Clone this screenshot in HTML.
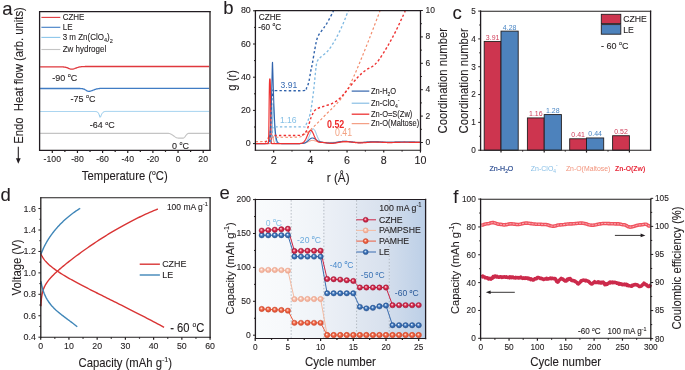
<!DOCTYPE html>
<html><head><meta charset="utf-8"><style>
html,body{margin:0;padding:0;background:#fff;}
svg{display:block;}
text{font-family:"Liberation Sans", sans-serif;}
</style></head><body>
<svg xmlns="http://www.w3.org/2000/svg" width="685" height="370" viewBox="0 0 685 370">
<defs><filter id="soft" x="0" y="0" width="1" height="1"><feGaussianBlur stdDeviation="0.4 0.28"/></filter></defs>
<g filter="url(#soft)">
<rect width="685" height="370" fill="#fff"/>
<text transform="translate(2.2,14.6) scale(1,1.0)" font-size="18.5" text-anchor="start" fill="#231f20" stroke="#231f20" stroke-width="0.1">a</text>
<text transform="translate(223.2,14) scale(1,1.0)" font-size="18.5" text-anchor="start" fill="#231f20" stroke="#231f20" stroke-width="0.1">b</text>
<text transform="translate(452.6,18.6) scale(1,1.0)" font-size="18.5" text-anchor="start" fill="#231f20" stroke="#231f20" stroke-width="0.1">c</text>
<text transform="translate(0.6,201) scale(1,1.0)" font-size="18.5" text-anchor="start" fill="#231f20" stroke="#231f20" stroke-width="0.1">d</text>
<text transform="translate(219.6,199.2) scale(1,1.0)" font-size="18.5" text-anchor="start" fill="#231f20" stroke="#231f20" stroke-width="0.1">e</text>
<text transform="translate(453.2,202.6) scale(1,1.0)" font-size="18.5" text-anchor="start" fill="#231f20" stroke="#231f20" stroke-width="0.1">f</text>
<polyline points="40.1,66.9 40.6,66.9 41.1,66.9 41.6,66.9 42.1,66.9 42.6,66.9 43.1,66.9 43.6,66.9 44.1,66.9 44.6,66.9 45.1,66.9 45.6,66.9 46.1,66.9 46.6,66.9 47.1,66.9 47.6,66.9 48.1,66.9 48.6,66.9 49.1,66.9 49.6,66.9 50.1,66.9 50.6,66.9 51.1,66.9 51.6,66.9 52.1,66.9 52.6,66.9 53.1,66.9 53.6,66.9 54.1,66.9 54.6,66.9 55.1,66.9 55.6,66.9 56.1,66.9 56.6,66.9 57.1,66.9 57.6,66.9 58.1,66.9 58.6,66.9 59.1,66.9 59.6,66.9 60.1,66.9 60.6,66.9 61.1,66.91 61.6,66.91 62.1,66.92 62.6,66.93 63.1,66.95 63.6,66.98 64.1,67.03 64.6,67.08 65.1,67.16 65.6,67.26 66.1,67.38 66.6,67.53 67.1,67.7 67.6,67.9 68.1,68.12 68.6,68.34 69.1,68.56 69.6,68.77 70.1,68.95 70.6,69.09 71.1,69.17 71.6,69.21 72.1,69.18 72.6,69.12 73.1,69.02 73.6,68.9 74.1,68.75 74.6,68.59 75.1,68.41 75.6,68.23 76.1,68.04 76.6,67.85 77.1,67.67 77.6,67.5 78.1,67.35 78.6,67.2 79.1,67.08 79.6,66.97 80.1,66.88 80.6,66.8 81.1,66.73 81.6,66.68 82.1,66.63 82.6,66.6 83.1,66.57 83.6,66.55 84.1,66.54 84.6,66.53 85.1,66.52 85.6,66.51 86.1,66.51 86.6,66.51 87.1,66.5 87.6,66.5 88.1,66.5 88.6,66.5 89.1,66.5 89.6,66.5 90.1,66.5 90.6,66.5 91.1,66.5 91.6,66.5 92.1,66.5 92.6,66.5 93.1,66.5 93.6,66.5 94.1,66.5 94.6,66.5 95.1,66.5 95.6,66.5 96.1,66.5 96.6,66.5 97.1,66.5 97.6,66.5 98.1,66.5 98.6,66.5 99.1,66.5 99.6,66.5 100.1,66.5 100.6,66.5 101.1,66.5 101.6,66.5 102.1,66.5 102.6,66.5 103.1,66.5 103.6,66.5 104.1,66.5 104.6,66.5 105.1,66.5 105.6,66.5 106.1,66.5 106.6,66.5 107.1,66.5 107.6,66.5 108.1,66.5 108.6,66.5 109.1,66.5 109.6,66.5 110.1,66.5 110.6,66.5 111.1,66.5 111.6,66.5 112.1,66.5 112.6,66.5 113.1,66.5 113.6,66.5 114.1,66.5 114.6,66.5 115.1,66.5 115.6,66.5 116.1,66.5 116.6,66.5 117.1,66.5 117.6,66.5 118.1,66.5 118.6,66.5 119.1,66.5 119.6,66.5 120.1,66.5 120.6,66.5 121.1,66.5 121.6,66.5 122.1,66.5 122.6,66.5 123.1,66.5 123.6,66.5 124.1,66.5 124.6,66.5 125.1,66.5 125.6,66.5 126.1,66.5 126.6,66.5 127.1,66.5 127.6,66.5 128.1,66.5 128.6,66.5 129.1,66.5 129.6,66.5 130.1,66.5 130.6,66.5 131.1,66.5 131.6,66.5 132.1,66.5 132.6,66.5 133.1,66.5 133.6,66.5 134.1,66.5 134.6,66.5 135.1,66.5 135.6,66.5 136.1,66.5 136.6,66.5 137.1,66.5 137.6,66.5 138.1,66.5 138.6,66.5 139.1,66.5 139.6,66.5 140.1,66.5 140.6,66.5 141.1,66.5 141.6,66.5 142.1,66.5 142.6,66.5 143.1,66.5 143.6,66.5 144.1,66.5 144.6,66.5 145.1,66.5 145.6,66.5 146.1,66.5 146.6,66.5 147.1,66.5 147.6,66.5 148.1,66.5 148.6,66.5 149.1,66.5 149.6,66.5 150.1,66.5 150.6,66.5 151.1,66.5 151.6,66.5 152.1,66.5 152.6,66.5 153.1,66.5 153.6,66.5 154.1,66.5 154.6,66.5 155.1,66.5 155.6,66.5 156.1,66.5 156.6,66.5 157.1,66.5 157.6,66.5 158.1,66.5 158.6,66.5 159.1,66.5 159.6,66.5 160.1,66.5 160.6,66.5 161.1,66.5 161.6,66.5 162.1,66.5 162.6,66.5 163.1,66.5 163.6,66.5 164.1,66.5 164.6,66.5 165.1,66.5 165.6,66.5 166.1,66.5 166.6,66.5 167.1,66.5 167.6,66.5 168.1,66.5 168.6,66.5 169.1,66.5 169.6,66.5 170.1,66.5 170.6,66.5 171.1,66.5 171.6,66.5 172.1,66.5 172.6,66.5 173.1,66.5 173.6,66.5 174.1,66.5 174.6,66.5 175.1,66.5 175.6,66.5 176.1,66.5 176.6,66.5 177.1,66.5 177.6,66.5 178.1,66.5 178.6,66.5 179.1,66.5 179.6,66.5 180.1,66.5 180.6,66.5 181.1,66.5 181.6,66.5 182.1,66.5 182.6,66.5 183.1,66.5 183.6,66.5 184.1,66.5 184.6,66.5 185.1,66.5 185.6,66.5 186.1,66.5 186.6,66.5 187.1,66.5 187.6,66.5 188.1,66.5 188.6,66.5 189.1,66.5 189.6,66.5 190.1,66.5 190.6,66.5 191.1,66.5 191.6,66.5 192.1,66.5 192.6,66.5 193.1,66.5 193.6,66.5 194.1,66.5 194.6,66.5 195.1,66.5 195.6,66.5 196.1,66.5 196.6,66.5 197.1,66.5 197.6,66.5 198.1,66.5 198.6,66.5 199.1,66.5 199.6,66.5 200.1,66.5 200.6,66.5 201.1,66.5 201.6,66.5 202.1,66.5 202.6,66.5 203.1,66.5 203.6,66.5 204.1,66.5 204.6,66.5 205.1,66.5 205.6,66.5 206.1,66.5 206.6,66.5 207.1,66.5 207.6,66.5 208.1,66.5 208.6,66.5 209.1,66.5" fill="none" stroke="#e0393e" stroke-width="1.3" stroke-linejoin="round"/>
<polyline points="40.1,88.5 40.6,88.5 41.1,88.5 41.6,88.5 42.1,88.5 42.6,88.5 43.1,88.5 43.6,88.5 44.1,88.5 44.6,88.5 45.1,88.5 45.6,88.5 46.1,88.5 46.6,88.5 47.1,88.5 47.6,88.5 48.1,88.5 48.6,88.5 49.1,88.5 49.6,88.5 50.1,88.5 50.6,88.5 51.1,88.5 51.6,88.5 52.1,88.5 52.6,88.5 53.1,88.5 53.6,88.5 54.1,88.5 54.6,88.5 55.1,88.5 55.6,88.5 56.1,88.5 56.6,88.5 57.1,88.5 57.6,88.5 58.1,88.5 58.6,88.5 59.1,88.5 59.6,88.5 60.1,88.5 60.6,88.5 61.1,88.5 61.6,88.5 62.1,88.5 62.6,88.5 63.1,88.5 63.6,88.5 64.1,88.5 64.6,88.5 65.1,88.5 65.6,88.5 66.1,88.5 66.6,88.5 67.1,88.5 67.6,88.5 68.1,88.5 68.6,88.5 69.1,88.5 69.6,88.5 70.1,88.5 70.6,88.5 71.1,88.5 71.6,88.5 72.1,88.5 72.6,88.5 73.1,88.5 73.6,88.5 74.1,88.5 74.6,88.5 75.1,88.5 75.6,88.5 76.1,88.5 76.6,88.5 77.1,88.5 77.6,88.5 78.1,88.5 78.6,88.5 79.1,88.51 79.6,88.51 80.1,88.52 80.6,88.54 81.1,88.57 81.6,88.61 82.1,88.67 82.6,88.75 83.1,88.87 83.6,89.02 84.1,89.21 84.6,89.44 85.1,89.71 85.6,90 86.1,90.3 86.6,90.59 87.1,90.86 87.6,91.08 88.1,91.23 88.6,91.3 89.1,91.29 89.6,91.24 90.1,91.15 90.6,91.04 91.1,90.91 91.6,90.75 92.1,90.57 92.6,90.39 93.1,90.19 93.6,90 94.1,89.8 94.6,89.62 95.1,89.44 95.6,89.28 96.1,89.13 96.6,88.99 97.1,88.87 97.6,88.77 98.1,88.68 98.6,88.6 99.1,88.54 99.6,88.48 100.1,88.44 100.6,88.41 101.1,88.38 101.6,88.36 102.1,88.34 102.6,88.33 103.1,88.32 103.6,88.32 104.1,88.31 104.6,88.31 105.1,88.31 105.6,88.3 106.1,88.3 106.6,88.3 107.1,88.3 107.6,88.3 108.1,88.3 108.6,88.3 109.1,88.3 109.6,88.3 110.1,88.3 110.6,88.3 111.1,88.3 111.6,88.3 112.1,88.3 112.6,88.3 113.1,88.3 113.6,88.3 114.1,88.3 114.6,88.3 115.1,88.3 115.6,88.3 116.1,88.3 116.6,88.3 117.1,88.3 117.6,88.3 118.1,88.3 118.6,88.3 119.1,88.3 119.6,88.3 120.1,88.3 120.6,88.3 121.1,88.3 121.6,88.3 122.1,88.3 122.6,88.3 123.1,88.3 123.6,88.3 124.1,88.3 124.6,88.3 125.1,88.3 125.6,88.3 126.1,88.3 126.6,88.3 127.1,88.3 127.6,88.3 128.1,88.3 128.6,88.3 129.1,88.3 129.6,88.3 130.1,88.3 130.6,88.3 131.1,88.3 131.6,88.3 132.1,88.3 132.6,88.3 133.1,88.3 133.6,88.3 134.1,88.3 134.6,88.3 135.1,88.3 135.6,88.3 136.1,88.3 136.6,88.3 137.1,88.3 137.6,88.3 138.1,88.3 138.6,88.3 139.1,88.3 139.6,88.3 140.1,88.3 140.6,88.3 141.1,88.3 141.6,88.3 142.1,88.3 142.6,88.3 143.1,88.3 143.6,88.3 144.1,88.3 144.6,88.3 145.1,88.3 145.6,88.3 146.1,88.3 146.6,88.3 147.1,88.3 147.6,88.3 148.1,88.3 148.6,88.3 149.1,88.3 149.6,88.3 150.1,88.3 150.6,88.3 151.1,88.3 151.6,88.3 152.1,88.3 152.6,88.3 153.1,88.3 153.6,88.3 154.1,88.3 154.6,88.3 155.1,88.3 155.6,88.3 156.1,88.3 156.6,88.3 157.1,88.3 157.6,88.3 158.1,88.3 158.6,88.3 159.1,88.3 159.6,88.3 160.1,88.3 160.6,88.3 161.1,88.3 161.6,88.3 162.1,88.3 162.6,88.3 163.1,88.3 163.6,88.3 164.1,88.3 164.6,88.3 165.1,88.3 165.6,88.3 166.1,88.3 166.6,88.3 167.1,88.3 167.6,88.3 168.1,88.3 168.6,88.3 169.1,88.3 169.6,88.3 170.1,88.3 170.6,88.3 171.1,88.3 171.6,88.3 172.1,88.3 172.6,88.3 173.1,88.3 173.6,88.3 174.1,88.3 174.6,88.3 175.1,88.3 175.6,88.3 176.1,88.3 176.6,88.3 177.1,88.3 177.6,88.3 178.1,88.3 178.6,88.3 179.1,88.3 179.6,88.3 180.1,88.3 180.6,88.3 181.1,88.3 181.6,88.3 182.1,88.3 182.6,88.3 183.1,88.3 183.6,88.3 184.1,88.3 184.6,88.3 185.1,88.3 185.6,88.3 186.1,88.3 186.6,88.3 187.1,88.3 187.6,88.3 188.1,88.3 188.6,88.3 189.1,88.3 189.6,88.3 190.1,88.3 190.6,88.3 191.1,88.3 191.6,88.3 192.1,88.3 192.6,88.3 193.1,88.3 193.6,88.3 194.1,88.3 194.6,88.3 195.1,88.3 195.6,88.3 196.1,88.3 196.6,88.3 197.1,88.3 197.6,88.3 198.1,88.3 198.6,88.3 199.1,88.3 199.6,88.3 200.1,88.3 200.6,88.3 201.1,88.3 201.6,88.3 202.1,88.3 202.6,88.3 203.1,88.3 203.6,88.3 204.1,88.3 204.6,88.3 205.1,88.3 205.6,88.3 206.1,88.3 206.6,88.3 207.1,88.3 207.6,88.3 208.1,88.3 208.6,88.3 209.1,88.3" fill="none" stroke="#3f7cc4" stroke-width="1.3" stroke-linejoin="round"/>
<polyline points="40.1,111.5 40.6,111.5 41.1,111.5 41.6,111.5 42.1,111.5 42.6,111.5 43.1,111.5 43.6,111.5 44.1,111.5 44.6,111.5 45.1,111.5 45.6,111.5 46.1,111.5 46.6,111.5 47.1,111.5 47.6,111.5 48.1,111.5 48.6,111.5 49.1,111.5 49.6,111.5 50.1,111.5 50.6,111.5 51.1,111.5 51.6,111.5 52.1,111.5 52.6,111.5 53.1,111.5 53.6,111.5 54.1,111.5 54.6,111.5 55.1,111.5 55.6,111.5 56.1,111.5 56.6,111.5 57.1,111.5 57.6,111.5 58.1,111.5 58.6,111.5 59.1,111.5 59.6,111.5 60.1,111.5 60.6,111.5 61.1,111.5 61.6,111.5 62.1,111.5 62.6,111.5 63.1,111.5 63.6,111.5 64.1,111.5 64.6,111.5 65.1,111.5 65.6,111.5 66.1,111.5 66.6,111.5 67.1,111.5 67.6,111.5 68.1,111.5 68.6,111.5 69.1,111.5 69.6,111.5 70.1,111.5 70.6,111.5 71.1,111.5 71.6,111.5 72.1,111.5 72.6,111.5 73.1,111.5 73.6,111.5 74.1,111.5 74.6,111.5 75.1,111.5 75.6,111.5 76.1,111.5 76.6,111.5 77.1,111.5 77.6,111.5 78.1,111.5 78.6,111.5 79.1,111.5 79.6,111.5 80.1,111.5 80.6,111.5 81.1,111.5 81.6,111.5 82.1,111.5 82.6,111.5 83.1,111.5 83.6,111.5 84.1,111.5 84.6,111.5 85.1,111.5 85.6,111.5 86.1,111.5 86.6,111.5 87.1,111.5 87.6,111.5 88.1,111.5 88.6,111.5 89.1,111.5 89.6,111.5 90.1,111.5 90.6,111.5 91.1,111.5 91.6,111.5 92.1,111.5 92.6,111.5 93.1,111.5 93.6,111.5 94.1,111.5 94.6,111.51 95.1,111.52 95.6,111.54 96.1,111.59 96.6,111.68 97.1,111.86 97.6,112.17 98.1,112.68 98.6,113.48 99.1,114.6 99.6,116 100.1,117.32 100.6,116.76 101.1,115.55 101.6,114.4 102.1,113.47 102.6,112.77 103.1,112.27 103.6,111.94 104.1,111.73 104.6,111.59 105.1,111.51 105.6,111.46 106.1,111.44 106.6,111.42 107.1,111.41 107.6,111.41 108.1,111.4 108.6,111.4 109.1,111.4 109.6,111.4 110.1,111.4 110.6,111.4 111.1,111.4 111.6,111.4 112.1,111.4 112.6,111.4 113.1,111.4 113.6,111.4 114.1,111.4 114.6,111.4 115.1,111.4 115.6,111.4 116.1,111.4 116.6,111.4 117.1,111.4 117.6,111.4 118.1,111.4 118.6,111.4 119.1,111.4 119.6,111.4 120.1,111.4 120.6,111.4 121.1,111.4 121.6,111.4 122.1,111.4 122.6,111.4 123.1,111.4 123.6,111.4 124.1,111.4 124.6,111.4 125.1,111.4 125.6,111.4 126.1,111.4 126.6,111.4 127.1,111.4 127.6,111.4 128.1,111.4 128.6,111.4 129.1,111.4 129.6,111.4 130.1,111.4 130.6,111.4 131.1,111.4 131.6,111.4 132.1,111.4 132.6,111.4 133.1,111.4 133.6,111.4 134.1,111.4 134.6,111.4 135.1,111.4 135.6,111.4 136.1,111.4 136.6,111.4 137.1,111.4 137.6,111.4 138.1,111.4 138.6,111.4 139.1,111.4 139.6,111.4 140.1,111.4 140.6,111.4 141.1,111.4 141.6,111.4 142.1,111.4 142.6,111.4 143.1,111.4 143.6,111.4 144.1,111.4 144.6,111.4 145.1,111.4 145.6,111.4 146.1,111.4 146.6,111.4 147.1,111.4 147.6,111.4 148.1,111.4 148.6,111.4 149.1,111.4 149.6,111.4 150.1,111.4 150.6,111.4 151.1,111.4 151.6,111.4 152.1,111.4 152.6,111.4 153.1,111.4 153.6,111.4 154.1,111.4 154.6,111.4 155.1,111.4 155.6,111.4 156.1,111.4 156.6,111.4 157.1,111.4 157.6,111.4 158.1,111.4 158.6,111.4 159.1,111.4 159.6,111.4 160.1,111.4 160.6,111.4 161.1,111.4 161.6,111.4 162.1,111.4 162.6,111.4 163.1,111.4 163.6,111.4 164.1,111.4 164.6,111.4 165.1,111.4 165.6,111.4 166.1,111.4 166.6,111.4 167.1,111.4 167.6,111.4 168.1,111.4 168.6,111.4 169.1,111.4 169.6,111.4 170.1,111.4 170.6,111.4 171.1,111.4 171.6,111.4 172.1,111.4 172.6,111.4 173.1,111.4 173.6,111.4 174.1,111.4 174.6,111.4 175.1,111.4 175.6,111.4 176.1,111.4 176.6,111.4 177.1,111.4 177.6,111.4 178.1,111.4 178.6,111.4 179.1,111.4 179.6,111.4 180.1,111.4 180.6,111.4 181.1,111.4 181.6,111.4 182.1,111.4 182.6,111.4 183.1,111.4 183.6,111.4 184.1,111.4 184.6,111.4 185.1,111.4 185.6,111.4 186.1,111.4 186.6,111.4 187.1,111.4 187.6,111.4 188.1,111.4 188.6,111.4 189.1,111.4 189.6,111.4 190.1,111.4 190.6,111.4 191.1,111.4 191.6,111.4 192.1,111.4 192.6,111.4 193.1,111.4 193.6,111.4 194.1,111.4 194.6,111.4 195.1,111.4 195.6,111.4 196.1,111.4 196.6,111.4 197.1,111.4 197.6,111.4 198.1,111.4 198.6,111.4 199.1,111.4 199.6,111.4 200.1,111.4 200.6,111.4 201.1,111.4 201.6,111.4 202.1,111.4 202.6,111.4 203.1,111.4 203.6,111.4 204.1,111.4 204.6,111.4 205.1,111.4 205.6,111.4 206.1,111.4 206.6,111.4 207.1,111.4 207.6,111.4 208.1,111.4 208.6,111.4 209.1,111.4" fill="none" stroke="#8cc6ea" stroke-width="1.0" stroke-linejoin="round"/>
<polyline points="40.1,133.4 40.6,133.4 41.1,133.4 41.6,133.4 42.1,133.4 42.6,133.4 43.1,133.4 43.6,133.4 44.1,133.4 44.6,133.4 45.1,133.4 45.6,133.4 46.1,133.4 46.6,133.4 47.1,133.4 47.6,133.4 48.1,133.4 48.6,133.4 49.1,133.4 49.6,133.4 50.1,133.4 50.6,133.4 51.1,133.4 51.6,133.4 52.1,133.4 52.6,133.4 53.1,133.4 53.6,133.4 54.1,133.4 54.6,133.4 55.1,133.4 55.6,133.4 56.1,133.4 56.6,133.4 57.1,133.4 57.6,133.4 58.1,133.4 58.6,133.4 59.1,133.4 59.6,133.4 60.1,133.4 60.6,133.4 61.1,133.4 61.6,133.4 62.1,133.4 62.6,133.4 63.1,133.4 63.6,133.4 64.1,133.4 64.6,133.4 65.1,133.4 65.6,133.4 66.1,133.4 66.6,133.4 67.1,133.4 67.6,133.4 68.1,133.4 68.6,133.4 69.1,133.4 69.6,133.4 70.1,133.4 70.6,133.4 71.1,133.4 71.6,133.4 72.1,133.4 72.6,133.4 73.1,133.4 73.6,133.4 74.1,133.4 74.6,133.4 75.1,133.4 75.6,133.4 76.1,133.4 76.6,133.4 77.1,133.4 77.6,133.4 78.1,133.4 78.6,133.4 79.1,133.4 79.6,133.4 80.1,133.4 80.6,133.4 81.1,133.4 81.6,133.4 82.1,133.4 82.6,133.4 83.1,133.4 83.6,133.4 84.1,133.4 84.6,133.4 85.1,133.4 85.6,133.4 86.1,133.4 86.6,133.4 87.1,133.4 87.6,133.4 88.1,133.4 88.6,133.4 89.1,133.4 89.6,133.4 90.1,133.4 90.6,133.4 91.1,133.4 91.6,133.4 92.1,133.4 92.6,133.4 93.1,133.4 93.6,133.4 94.1,133.4 94.6,133.4 95.1,133.4 95.6,133.4 96.1,133.4 96.6,133.4 97.1,133.4 97.6,133.4 98.1,133.4 98.6,133.4 99.1,133.4 99.6,133.4 100.1,133.4 100.6,133.4 101.1,133.4 101.6,133.4 102.1,133.4 102.6,133.4 103.1,133.4 103.6,133.4 104.1,133.4 104.6,133.4 105.1,133.4 105.6,133.4 106.1,133.4 106.6,133.4 107.1,133.4 107.6,133.4 108.1,133.4 108.6,133.4 109.1,133.4 109.6,133.4 110.1,133.4 110.6,133.4 111.1,133.4 111.6,133.4 112.1,133.4 112.6,133.4 113.1,133.4 113.6,133.4 114.1,133.4 114.6,133.4 115.1,133.4 115.6,133.4 116.1,133.4 116.6,133.4 117.1,133.4 117.6,133.4 118.1,133.4 118.6,133.4 119.1,133.4 119.6,133.4 120.1,133.4 120.6,133.4 121.1,133.4 121.6,133.4 122.1,133.4 122.6,133.4 123.1,133.4 123.6,133.4 124.1,133.4 124.6,133.4 125.1,133.4 125.6,133.4 126.1,133.4 126.6,133.4 127.1,133.4 127.6,133.4 128.1,133.4 128.6,133.4 129.1,133.4 129.6,133.4 130.1,133.4 130.6,133.4 131.1,133.4 131.6,133.4 132.1,133.4 132.6,133.4 133.1,133.4 133.6,133.4 134.1,133.4 134.6,133.4 135.1,133.4 135.6,133.4 136.1,133.4 136.6,133.4 137.1,133.4 137.6,133.4 138.1,133.4 138.6,133.4 139.1,133.4 139.6,133.4 140.1,133.4 140.6,133.4 141.1,133.4 141.6,133.4 142.1,133.4 142.6,133.4 143.1,133.4 143.6,133.4 144.1,133.4 144.6,133.4 145.1,133.4 145.6,133.4 146.1,133.4 146.6,133.4 147.1,133.4 147.6,133.4 148.1,133.4 148.6,133.4 149.1,133.4 149.6,133.4 150.1,133.4 150.6,133.4 151.1,133.4 151.6,133.4 152.1,133.4 152.6,133.4 153.1,133.4 153.6,133.4 154.1,133.4 154.6,133.4 155.1,133.4 155.6,133.4 156.1,133.4 156.6,133.4 157.1,133.4 157.6,133.4 158.1,133.4 158.6,133.4 159.1,133.4 159.6,133.4 160.1,133.4 160.6,133.4 161.1,133.4 161.6,133.4 162.1,133.4 162.6,133.4 163.1,133.4 163.6,133.4 164.1,133.4 164.6,133.4 165.1,133.4 165.6,133.4 166.1,133.4 166.6,133.4 167.1,133.4 167.6,133.4 168.1,133.4 168.6,133.4 169.1,133.44 169.6,133.54 170.1,133.69 170.6,133.89 171.1,134.14 171.6,134.43 172.1,134.75 172.6,135.09 173.1,135.46 173.6,135.82 174.1,136.19 174.6,136.55 175.1,136.88 175.6,137.19 176.1,137.46 176.6,137.69 177.1,137.88 177.6,138.01 178.1,138.08 178.6,138.1 179.1,138.1 179.6,138.1 180.1,138.1 180.6,138.1 181.1,138.1 181.6,138.1 182.1,138.1 182.6,138.1 183.1,138.1 183.6,137.96 184.1,137.65 184.6,137.19 185.1,136.6 185.6,135.95 186.1,135.28 186.6,134.65 187.1,134.11 187.6,133.7 188.1,133.46 188.6,133.4 189.1,133.4 189.6,133.4 190.1,133.4 190.6,133.4 191.1,133.4 191.6,133.4 192.1,133.4 192.6,133.4 193.1,133.4 193.6,133.4 194.1,133.4 194.6,133.4 195.1,133.4 195.6,133.4 196.1,133.4 196.6,133.4 197.1,133.4 197.6,133.4 198.1,133.4 198.6,133.4 199.1,133.4 199.6,133.4 200.1,133.4 200.6,133.4 201.1,133.4 201.6,133.4 202.1,133.4 202.6,133.4 203.1,133.4 203.6,133.4 204.1,133.4 204.6,133.4 205.1,133.4 205.6,133.4 206.1,133.4 206.6,133.4 207.1,133.4 207.6,133.4 208.1,133.4 208.6,133.4 209.1,133.4" fill="none" stroke="#c4c4c4" stroke-width="1.1" stroke-linejoin="round"/>
<line x1="41.4" y1="17.4" x2="60.3" y2="17.4" stroke="#e0393e" stroke-width="1.1"/>
<line x1="41.4" y1="27.3" x2="60.3" y2="27.3" stroke="#3f7cc4" stroke-width="1.1"/>
<line x1="41.4" y1="37.4" x2="60.3" y2="37.4" stroke="#8cc6ea" stroke-width="1.1"/>
<line x1="41.4" y1="49.5" x2="60.3" y2="49.5" stroke="#c4c4c4" stroke-width="1.1"/>
<text transform="translate(62.7,20.2) scale(1,1.1)" font-size="8" text-anchor="start" fill="#231f20" stroke="#231f20" stroke-width="0.1">CZHE</text>
<text transform="translate(62.7,30.1) scale(1,1.1)" font-size="8" text-anchor="start" fill="#231f20" stroke="#231f20" stroke-width="0.1">LE</text>
<text transform="translate(62.7,40.2) scale(1,1.1)" font-size="8" text-anchor="start" fill="#231f20" stroke="#231f20" stroke-width="0.1">3 m Zn(ClO<tspan dy="1.8" font-size="5.5">4</tspan><tspan dy="-1.8">)</tspan><tspan dy="2.3" font-size="5.5">2</tspan></text>
<text transform="translate(62.7,52.3) scale(1,1.1)" font-size="8" text-anchor="start" fill="#231f20" stroke="#231f20" stroke-width="0.1">Zw hydrogel</text>
<text transform="translate(52.2,80.7) scale(1,1.1)" font-size="9" text-anchor="start" fill="#231f20" stroke="#231f20" stroke-width="0.1">-90 <tspan font-size="5.4" dy="-3.42" stroke="#231f20" stroke-width="0.11">o</tspan><tspan dy="3.42">C</tspan></text>
<text transform="translate(70.4,101.6) scale(1,1.1)" font-size="9" text-anchor="start" fill="#231f20" stroke="#231f20" stroke-width="0.1">-75 <tspan font-size="5.4" dy="-3.42" stroke="#231f20" stroke-width="0.11">o</tspan><tspan dy="3.42">C</tspan></text>
<text transform="translate(89.8,128.4) scale(1,1.1)" font-size="9" text-anchor="start" fill="#231f20" stroke="#231f20" stroke-width="0.1">-64 <tspan font-size="5.4" dy="-3.42" stroke="#231f20" stroke-width="0.11">o</tspan><tspan dy="3.42">C</tspan></text>
<text transform="translate(171.9,148.6) scale(1,1.1)" font-size="9" text-anchor="start" fill="#231f20" stroke="#231f20" stroke-width="0.1">0 <tspan font-size="5.4" dy="-3.42" stroke="#231f20" stroke-width="0.11">o</tspan><tspan dy="3.42">C</tspan></text>
<path d="M39.6,11.6H210M39.6,150.4H210" fill="none" stroke="#231f20" stroke-width="1.1" stroke-linecap="square"/>
<path d="M39.6,11.6V150.4M210,11.6V150.4" fill="none" stroke="#231f20" stroke-width="1.3" stroke-linecap="square"/>
<line x1="52.3" y1="150.4" x2="52.3" y2="153" stroke="#231f20" stroke-width="1.2"/>
<text transform="translate(52.3,162.2) scale(1,1.1)" font-size="8.7" text-anchor="middle" fill="#231f20" stroke="#231f20" stroke-width="0.1">-100</text>
<line x1="77.45" y1="150.4" x2="77.45" y2="153" stroke="#231f20" stroke-width="1.2"/>
<text transform="translate(77.45,162.2) scale(1,1.1)" font-size="8.7" text-anchor="middle" fill="#231f20" stroke="#231f20" stroke-width="0.1">-80</text>
<line x1="102.6" y1="150.4" x2="102.6" y2="153" stroke="#231f20" stroke-width="1.2"/>
<text transform="translate(102.6,162.2) scale(1,1.1)" font-size="8.7" text-anchor="middle" fill="#231f20" stroke="#231f20" stroke-width="0.1">-60</text>
<line x1="127.75" y1="150.4" x2="127.75" y2="153" stroke="#231f20" stroke-width="1.2"/>
<text transform="translate(127.75,162.2) scale(1,1.1)" font-size="8.7" text-anchor="middle" fill="#231f20" stroke="#231f20" stroke-width="0.1">-40</text>
<line x1="152.9" y1="150.4" x2="152.9" y2="153" stroke="#231f20" stroke-width="1.2"/>
<text transform="translate(152.9,162.2) scale(1,1.1)" font-size="8.7" text-anchor="middle" fill="#231f20" stroke="#231f20" stroke-width="0.1">-20</text>
<line x1="178.05" y1="150.4" x2="178.05" y2="153" stroke="#231f20" stroke-width="1.2"/>
<text transform="translate(178.05,162.2) scale(1,1.1)" font-size="8.7" text-anchor="middle" fill="#231f20" stroke="#231f20" stroke-width="0.1">0</text>
<line x1="203.2" y1="150.4" x2="203.2" y2="153" stroke="#231f20" stroke-width="1.2"/>
<text transform="translate(203.2,162.2) scale(1,1.1)" font-size="8.7" text-anchor="middle" fill="#231f20" stroke="#231f20" stroke-width="0.1">20</text>
<line x1="64.88" y1="150.4" x2="64.88" y2="151.9" stroke="#231f20" stroke-width="1.2"/>
<line x1="90.03" y1="150.4" x2="90.03" y2="151.9" stroke="#231f20" stroke-width="1.2"/>
<line x1="115.17" y1="150.4" x2="115.17" y2="151.9" stroke="#231f20" stroke-width="1.2"/>
<line x1="140.32" y1="150.4" x2="140.32" y2="151.9" stroke="#231f20" stroke-width="1.2"/>
<line x1="165.48" y1="150.4" x2="165.48" y2="151.9" stroke="#231f20" stroke-width="1.2"/>
<line x1="190.62" y1="150.4" x2="190.62" y2="151.9" stroke="#231f20" stroke-width="1.2"/>
<text transform="translate(124.8,179.8) scale(1,1.1)" font-size="11.3" text-anchor="middle" fill="#231f20" stroke="#231f20" stroke-width="0.1">Temperature (<tspan font-size="6.78" dy="-4.29" stroke="#231f20" stroke-width="0.14">o</tspan><tspan dy="4.29">C</tspan>)</text>
<text transform="translate(22.6,75.5) rotate(-90) scale(1,1.06)" font-size="11.3" text-anchor="middle" fill="#231f20" stroke="#231f20" stroke-width="0.1">Endo&#160; Heat flow (arb. units)</text>
<line x1="18.3" y1="146.8" x2="18.3" y2="160.5" stroke="#231f20" stroke-width="1.1"/>
<path d="M15.9,158.2 L18.3,163.8 L20.7,158.2 Z" fill="#231f20"/>
<polyline points="255.3,143.6 255.48,143.6 255.67,143.6 255.85,143.6 256.03,143.6 256.22,143.6 256.4,143.6 256.58,143.6 256.77,143.6 256.95,143.6 257.13,143.6 257.32,143.6 257.5,143.6 257.69,143.6 257.87,143.6 258.05,143.6 258.24,143.6 258.42,143.6 258.6,143.6 258.79,143.6 258.97,143.6 259.15,143.6 259.34,143.6 259.52,143.6 259.7,143.6 259.89,143.6 260.07,143.6 260.25,143.6 260.44,143.6 260.62,143.6 260.81,143.6 260.99,143.6 261.17,143.6 261.36,143.6 261.54,143.6 261.72,143.6 261.91,143.6 262.09,143.6 262.27,143.6 262.46,143.6 262.64,143.6 262.82,143.6 263.01,143.6 263.19,143.6 263.37,143.6 263.56,143.6 263.74,143.6 263.92,143.6 264.11,143.6 264.29,143.6 264.48,143.6 264.66,143.6 264.84,143.6 265.03,143.6 265.21,143.6 265.39,143.6 265.58,143.6 265.76,143.6 265.94,143.6 266.13,143.6 266.31,143.6 266.49,143.6 266.68,143.6 266.86,143.6 267.04,143.6 267.23,143.6 267.41,143.6 267.59,143.6 267.78,143.6 267.96,143.6 268.15,143.6 268.33,143.6 268.51,143.6 268.7,143.6 268.88,143.6 269.06,143.6 269.25,143.6 269.43,143.6 269.61,143.6 269.8,143.6 269.98,143.59 270.16,143.57 270.35,143.53 270.53,143.45 270.71,143.27 270.9,142.96 271.08,142.43 271.26,141.63 271.45,140.55 271.63,139.22 271.82,137.81 272,136.53 272.18,135.63 272.37,135.3 272.55,135.47 272.73,135.95 272.92,136.69 273.1,137.61 273.28,138.62 273.47,139.62 273.65,140.55 273.83,141.35 274.02,142.01 274.2,142.52 274.38,142.9 274.57,143.16 274.75,143.34 274.93,143.45 275.12,143.52 275.3,143.56 275.49,143.58 275.67,143.59 275.85,143.59 276.04,143.6 276.22,143.6 276.4,143.6 276.59,143.6 276.77,143.6 276.95,143.6 277.14,143.6 277.32,143.6 277.5,143.6 277.69,143.6 277.87,143.6 278.05,143.6 278.24,143.6 278.42,143.6 278.6,143.6 278.79,143.6 278.97,143.6 279.15,143.6 279.34,143.6 279.52,143.6 279.71,143.6 279.89,143.6 280.07,143.6 280.26,143.6 280.44,143.6 280.62,143.6 280.81,143.6 280.99,143.6 281.17,143.6 281.36,143.6 281.54,143.6 281.72,143.6 281.91,143.6 282.09,143.6 282.27,143.6 282.46,143.6 282.64,143.6 282.82,143.6 283.01,143.6 283.19,143.6 283.38,143.6 283.56,143.6 283.74,143.6 283.93,143.6 284.11,143.6 284.29,143.6 284.48,143.6 284.66,143.6 284.84,143.6 285.03,143.6 285.21,143.6 285.39,143.6 285.58,143.6 285.76,143.6 285.94,143.6 286.13,143.6 286.31,143.6 286.49,143.6 286.68,143.6 286.86,143.6 287.05,143.6 287.23,143.6 287.41,143.6 287.6,143.6 287.78,143.6 287.96,143.6 288.15,143.6 288.33,143.6 288.51,143.6 288.7,143.6 288.88,143.6 289.06,143.6 289.25,143.6 289.43,143.6 289.61,143.6 289.8,143.6 289.98,143.6 290.16,143.6 290.35,143.6 290.53,143.6 290.72,143.6 290.9,143.6 291.08,143.6 291.27,143.6 291.45,143.6 291.63,143.6 291.82,143.6 292,143.6 292.18,143.6 292.37,143.6 292.55,143.6 292.73,143.6 292.92,143.6 293.1,143.6 293.28,143.6 293.47,143.6 293.65,143.6 293.83,143.6 294.02,143.6 294.2,143.6 294.39,143.6 294.57,143.6 294.75,143.6 294.94,143.6 295.12,143.6 295.3,143.6 295.49,143.6 295.67,143.6 295.85,143.6 296.04,143.6 296.22,143.6 296.4,143.6 296.59,143.6 296.77,143.6 296.95,143.6 297.14,143.6 297.32,143.59 297.5,143.59 297.69,143.59 297.87,143.59 298.06,143.59 298.24,143.59 298.42,143.59 298.61,143.59 298.79,143.59 298.97,143.59 299.16,143.58 299.34,143.58 299.52,143.58 299.71,143.58 299.89,143.57 300.07,143.57 300.26,143.57 300.44,143.56 300.62,143.56 300.81,143.55 300.99,143.54 301.17,143.54 301.36,143.53 301.54,143.52 301.73,143.51 301.91,143.5 302.09,143.49 302.28,143.47 302.46,143.46 302.64,143.44 302.83,143.42 303.01,143.4 303.19,143.38 303.38,143.35 303.56,143.33 303.74,143.3 303.93,143.27 304.11,143.23 304.29,143.2 304.48,143.16 304.66,143.12 304.84,143.07 305.03,143.02 305.21,142.97 305.4,142.92 305.58,142.86 305.76,142.8 305.95,142.74 306.13,142.68 306.31,142.61 306.5,142.54 306.68,142.46 306.86,142.38 307.05,142.31 307.23,142.22 307.41,142.14 307.6,142.06 307.78,141.97 307.96,141.88 308.15,141.79 308.33,141.7 308.51,141.62 308.7,141.53 308.88,141.44 309.07,141.35 309.25,141.27 309.43,141.18 309.62,141.1 309.8,141.02 309.98,140.95 310.17,140.88 310.35,140.81 310.53,140.75 310.72,140.69 310.9,140.63 311.08,140.59 311.27,140.54 311.45,140.51 311.63,140.47 311.82,140.45 312,140.43 312.18,140.42 312.37,140.41 312.55,140.41 312.74,140.41 312.92,140.42 313.1,140.44 313.29,140.46 313.47,140.48 313.65,140.51 313.84,140.54 314.02,140.58 314.2,140.62 314.39,140.67 314.57,140.71 314.75,140.77 314.94,140.82 315.12,140.87 315.3,140.93 315.49,140.99 315.67,141.05 315.85,141.11 316.04,141.17 316.22,141.23 316.41,141.3 316.59,141.36 316.77,141.42 316.96,141.48 317.14,141.54 317.32,141.59 317.51,141.65 317.69,141.7 317.87,141.75 318.06,141.8 318.24,141.85 318.42,141.9 318.61,141.94 318.79,141.98 318.97,142.02 319.16,142.06 319.34,142.09 319.52,142.12 319.71,142.15 319.89,142.18 320.08,142.2 320.26,142.22 320.44,142.24 320.63,142.26 320.81,142.28 320.99,142.29 321.18,142.31 321.36,142.32 321.54,142.33 321.73,142.34 321.91,142.35 322.09,142.35 322.28,142.36 322.46,142.36 322.64,142.37 322.83,142.37 323.01,142.37 323.19,142.38 323.38,142.38 323.56,142.38 323.75,142.38 323.93,142.38 324.11,142.38 324.3,142.38 324.48,142.38 324.66,142.38 324.85,142.38 325.03,142.39 325.21,142.39 325.4,142.39 325.58,142.39 325.76,142.39 325.95,142.39 326.13,142.39 326.31,142.39 326.5,142.39 326.68,142.39 326.86,142.39 327.05,142.39 327.23,142.4 327.42,142.4 327.6,142.4 327.78,142.4 327.97,142.4 328.15,142.4 328.33,142.4 328.52,142.4 328.7,142.4 328.88,142.41 329.07,142.41 329.25,142.41 329.43,142.41 329.62,142.41 329.8,142.41 329.98,142.41 330.17,142.41 330.35,142.41 330.53,142.41 330.72,142.41 330.9,142.41 331.09,142.4 331.27,142.4 331.45,142.4 331.64,142.4 331.82,142.4 332,142.39 332.19,142.39 332.37,142.39 332.55,142.39 332.74,142.38 332.92,142.38 333.1,142.37 333.29,142.37 333.47,142.36 333.65,142.36 333.84,142.35 334.02,142.35 334.2,142.34 334.39,142.34 334.57,142.33 334.76,142.32 334.94,142.31 335.12,142.31 335.31,142.3 335.49,142.29 335.67,142.28 335.86,142.28 336.04,142.27 336.22,142.26 336.41,142.25 336.59,142.24 336.77,142.23 336.96,142.22 337.14,142.21 337.32,142.2 337.51,142.19 337.69,142.18 337.87,142.17 338.06,142.16 338.24,142.15 338.43,142.14 338.61,142.13 338.79,142.12 338.98,142.11 339.16,142.1 339.34,142.09 339.53,142.08 339.71,142.08 339.89,142.07 340.08,142.06 340.26,142.05 340.44,142.04 340.63,142.03 340.81,142.02 340.99,142.02 341.18,142.01 341.36,142 341.54,141.99 341.73,141.99 341.91,141.98 342.1,141.97 342.28,141.97 342.46,141.96 342.65,141.96 342.83,141.95 343.01,141.95 343.2,141.94 343.38,141.94 343.56,141.93 343.75,141.93 343.93,141.93 344.11,141.92 344.3,141.92 344.48,141.92 344.66,141.92 344.85,141.92 345.03,141.91 345.21,141.91 345.4,141.91 345.58,141.91 345.77,141.91 345.95,141.91 346.13,141.91 346.32,141.91 346.5,141.92 346.68,141.92 346.87,141.92 347.05,141.92 347.23,141.92 347.42,141.93 347.6,141.93 347.78,141.93 347.97,141.93 348.15,141.94 348.33,141.94 348.52,141.95 348.7,141.95 348.88,141.95 349.07,141.96 349.25,141.96 349.44,141.97 349.62,141.97 349.8,141.98 349.99,141.98 350.17,141.99 350.35,142 350.54,142 350.72,142.01 350.9,142.01 351.09,142.02 351.27,142.03 351.45,142.03 351.64,142.04 351.82,142.04 352,142.05 352.19,142.06 352.37,142.06 352.55,142.07 352.74,142.08 352.92,142.08 353.11,142.09 353.29,142.09 353.47,142.1 353.66,142.11 353.84,142.11 354.02,142.12 354.21,142.12 354.39,142.13 354.57,142.14 354.76,142.14 354.94,142.15 355.12,142.15 355.31,142.16 355.49,142.16 355.67,142.17 355.86,142.17 356.04,142.18 356.22,142.18 356.41,142.18 356.59,142.19 356.78,142.19 356.96,142.2 357.14,142.2 357.33,142.2 357.51,142.21 357.69,142.21 357.88,142.21 358.06,142.22 358.24,142.22 358.43,142.22 358.61,142.22 358.79,142.22 358.98,142.23 359.16,142.23 359.34,142.23 359.53,142.23 359.71,142.23 359.89,142.23 360.08,142.23 360.26,142.23 360.45,142.23 360.63,142.23 360.81,142.23 361,142.23 361.18,142.23 361.36,142.23 361.55,142.23 361.73,142.23 361.91,142.22 362.1,142.22 362.28,142.22 362.46,142.22 362.65,142.22 362.83,142.21 363.01,142.21 363.2,142.21 363.38,142.21 363.56,142.2 363.75,142.2 363.93,142.2 364.12,142.19 364.3,142.19 364.48,142.19 364.67,142.18 364.85,142.18 365.03,142.18 365.22,142.17 365.4,142.17 365.58,142.17 365.77,142.16 365.95,142.16 366.13,142.15 366.32,142.15 366.5,142.15 366.68,142.14 366.87,142.14 367.05,142.13 367.23,142.13 367.42,142.13 367.6,142.12 367.79,142.12 367.97,142.11 368.15,142.11 368.34,142.11 368.52,142.1 368.7,142.1 368.89,142.09 369.07,142.09 369.25,142.09 369.44,142.08 369.62,142.08 369.8,142.08 369.99,142.07 370.17,142.07 370.35,142.07 370.54,142.06 370.72,142.06 370.9,142.06 371.09,142.06 371.27,142.05 371.46,142.05 371.64,142.05 371.82,142.05 372.01,142.04 372.19,142.04 372.37,142.04 372.56,142.04 372.74,142.04 372.92,142.03 373.11,142.03 373.29,142.03 373.47,142.03 373.66,142.03 373.84,142.03 374.02,142.03 374.21,142.03 374.39,142.03 374.57,142.03 374.76,142.03 374.94,142.03 375.13,142.03 375.31,142.03 375.49,142.03 375.68,142.03 375.86,142.03 376.04,142.03 376.23,142.03 376.41,142.03 376.59,142.03 376.78,142.03 376.96,142.03 377.14,142.03 377.33,142.04 377.51,142.04 377.69,142.04 377.88,142.04 378.06,142.04 378.24,142.04 378.43,142.05 378.61,142.05 378.8,142.05 378.98,142.05 379.16,142.05 379.35,142.06 379.53,142.06 379.71,142.06 379.9,142.06 380.08,142.07 380.26,142.07 380.45,142.07 380.63,142.07 380.81,142.08 381,142.08 381.18,142.08 381.36,142.08 381.55,142.09 381.73,142.09 381.91,142.09 382.1,142.09 382.28,142.1 382.47,142.1 382.65,142.1 382.83,142.1 383.02,142.11 383.2,142.11 383.38,142.11 383.57,142.11 383.75,142.12 383.93,142.12 384.12,142.12 384.3,142.12 384.48,142.12 384.67,142.13 384.85,142.13 385.03,142.13 385.22,142.13 385.4,142.13 385.58,142.14 385.77,142.14 385.95,142.14 386.14,142.14 386.32,142.14 386.5,142.14 386.69,142.15 386.87,142.15 387.05,142.15 387.24,142.15 387.42,142.15 387.6,142.15 387.79,142.15 387.97,142.15 388.15,142.15 388.34,142.16 388.52,142.16 388.7,142.16 388.89,142.16 389.07,142.16 389.25,142.16 389.44,142.16 389.62,142.16 389.81,142.16 389.99,142.16 390.17,142.16 390.36,142.16 390.54,142.16 390.72,142.16 390.91,142.16 391.09,142.16 391.27,142.15 391.46,142.15 391.64,142.15 391.82,142.15 392.01,142.15 392.19,142.15 392.37,142.15 392.56,142.15 392.74,142.15 392.92,142.15 393.11,142.14 393.29,142.14 393.48,142.14 393.66,142.14 393.84,142.14 394.03,142.14 394.21,142.14 394.39,142.14 394.58,142.13 394.76,142.13 394.94,142.13 395.13,142.13 395.31,142.13 395.49,142.13 395.68,142.12 395.86,142.12 396.04,142.12 396.23,142.12 396.41,142.12 396.59,142.12 396.78,142.11 396.96,142.11 397.15,142.11 397.33,142.11 397.51,142.11 397.7,142.11 397.88,142.1 398.06,142.1 398.25,142.1 398.43,142.1 398.61,142.1 398.8,142.1 398.98,142.1 399.16,142.09 399.35,142.09 399.53,142.09 399.71,142.09 399.9,142.09 400.08,142.09 400.26,142.09 400.45,142.09 400.63,142.08 400.82,142.08 401,142.08 401.18,142.08 401.37,142.08 401.55,142.08 401.73,142.08 401.92,142.08 402.1,142.08 402.28,142.08 402.47,142.08 402.65,142.08 402.83,142.07 403.02,142.07 403.2,142.07 403.38,142.07 403.57,142.07 403.75,142.07 403.93,142.07 404.12,142.07 404.3,142.07 404.49,142.07 404.67,142.07 404.85,142.07 405.04,142.07 405.22,142.07 405.4,142.07 405.59,142.07 405.77,142.07 405.95,142.07 406.14,142.08 406.32,142.08 406.5,142.08 406.69,142.08 406.87,142.08 407.05,142.08 407.24,142.08 407.42,142.08 407.6,142.08 407.79,142.08 407.97,142.08 408.16,142.08 408.34,142.08 408.52,142.08 408.71,142.09 408.89,142.09 409.07,142.09 409.26,142.09 409.44,142.09 409.62,142.09 409.81,142.09 409.99,142.09 410.17,142.09 410.36,142.09 410.54,142.1 410.72,142.1 410.91,142.1 411.09,142.1 411.27,142.1 411.46,142.1 411.64,142.1 411.83,142.1 412.01,142.1 412.19,142.1 412.38,142.11 412.56,142.11 412.74,142.11 412.93,142.11 413.11,142.11 413.29,142.11 413.48,142.11 413.66,142.11 413.84,142.11 414.03,142.11 414.21,142.12 414.39,142.12 414.58,142.12 414.76,142.12 414.94,142.12 415.13,142.12 415.31,142.12 415.5,142.12 415.68,142.12 415.86,142.12 416.05,142.12 416.23,142.12 416.41,142.12 416.6,142.12 416.78,142.12 416.96,142.12 417.15,142.13 417.33,142.13 417.51,142.13 417.7,142.13 417.88,142.13 418.06,142.13 418.25,142.13 418.43,142.13 418.61,142.13 418.8,142.13 418.98,142.13 419.17,142.13 419.35,142.13 419.53,142.13 419.72,142.13 419.9,142.13 420.08,142.13 420.27,142.13 420.45,142.13" fill="none" stroke="#f28a6a" stroke-width="1.0" stroke-linejoin="round"/>
<polyline points="255.3,143.6 255.48,143.6 255.67,143.6 255.85,143.6 256.03,143.6 256.22,143.6 256.4,143.6 256.58,143.6 256.77,143.6 256.95,143.6 257.13,143.6 257.32,143.6 257.5,143.6 257.69,143.6 257.87,143.6 258.05,143.6 258.24,143.6 258.42,143.6 258.6,143.6 258.79,143.6 258.97,143.6 259.15,143.6 259.34,143.6 259.52,143.6 259.7,143.6 259.89,143.6 260.07,143.6 260.25,143.6 260.44,143.6 260.62,143.6 260.81,143.6 260.99,143.6 261.17,143.6 261.36,143.6 261.54,143.6 261.72,143.6 261.91,143.6 262.09,143.6 262.27,143.6 262.46,143.6 262.64,143.6 262.82,143.6 263.01,143.6 263.19,143.6 263.37,143.6 263.56,143.6 263.74,143.6 263.92,143.6 264.11,143.6 264.29,143.6 264.48,143.6 264.66,143.6 264.84,143.6 265.03,143.6 265.21,143.6 265.39,143.6 265.58,143.6 265.76,143.6 265.94,143.6 266.13,143.6 266.31,143.6 266.49,143.6 266.68,143.6 266.86,143.6 267.04,143.6 267.23,143.6 267.41,143.6 267.59,143.6 267.78,143.6 267.96,143.6 268.15,143.6 268.33,143.6 268.51,143.6 268.7,143.6 268.88,143.6 269.06,143.59 269.25,143.59 269.43,143.58 269.61,143.56 269.8,143.53 269.98,143.48 270.16,143.4 270.35,143.27 270.53,143.08 270.71,142.78 270.9,142.33 271.08,141.68 271.26,140.75 271.45,139.46 271.63,137.72 271.82,135.43 272,132.52 272.18,128.94 272.37,124.72 272.55,119.98 272.73,114.95 272.92,110.07 273.1,105.96 273.28,103.76 273.47,105.16 273.65,107.87 273.83,111.25 274.02,114.95 274.2,118.74 274.38,122.4 274.57,125.83 274.75,128.94 274.93,131.69 275.12,134.06 275.3,136.06 275.49,137.72 275.67,139.07 275.85,140.16 276.04,141.01 276.22,141.68 276.4,142.19 276.59,142.57 276.77,142.86 276.95,143.08 277.14,143.23 277.32,143.34 277.5,143.42 277.69,143.48 277.87,143.52 278.05,143.55 278.24,143.56 278.42,143.58 278.6,143.58 278.79,143.59 278.97,143.59 279.15,143.6 279.34,143.6 279.52,143.6 279.71,143.6 279.89,143.6 280.07,143.6 280.26,143.6 280.44,143.6 280.62,143.6 280.81,143.6 280.99,143.6 281.17,143.6 281.36,143.6 281.54,143.6 281.72,143.6 281.91,143.6 282.09,143.6 282.27,143.6 282.46,143.6 282.64,143.6 282.82,143.6 283.01,143.6 283.19,143.6 283.38,143.6 283.56,143.6 283.74,143.6 283.93,143.6 284.11,143.6 284.29,143.6 284.48,143.6 284.66,143.6 284.84,143.6 285.03,143.6 285.21,143.6 285.39,143.6 285.58,143.6 285.76,143.6 285.94,143.6 286.13,143.6 286.31,143.6 286.49,143.6 286.68,143.6 286.86,143.6 287.05,143.6 287.23,143.6 287.41,143.6 287.6,143.6 287.78,143.6 287.96,143.6 288.15,143.6 288.33,143.6 288.51,143.6 288.7,143.6 288.88,143.6 289.06,143.6 289.25,143.6 289.43,143.6 289.61,143.6 289.8,143.6 289.98,143.6 290.16,143.6 290.35,143.6 290.53,143.6 290.72,143.6 290.9,143.6 291.08,143.6 291.27,143.6 291.45,143.6 291.63,143.6 291.82,143.6 292,143.6 292.18,143.6 292.37,143.6 292.55,143.6 292.73,143.6 292.92,143.6 293.1,143.6 293.28,143.6 293.47,143.6 293.65,143.6 293.83,143.6 294.02,143.6 294.2,143.6 294.39,143.6 294.57,143.6 294.75,143.6 294.94,143.6 295.12,143.6 295.3,143.6 295.49,143.6 295.67,143.6 295.85,143.6 296.04,143.6 296.22,143.6 296.4,143.6 296.59,143.6 296.77,143.6 296.95,143.6 297.14,143.6 297.32,143.6 297.5,143.6 297.69,143.6 297.87,143.6 298.06,143.6 298.24,143.6 298.42,143.6 298.61,143.6 298.79,143.59 298.97,143.59 299.16,143.59 299.34,143.59 299.52,143.59 299.71,143.59 299.89,143.59 300.07,143.58 300.26,143.58 300.44,143.58 300.62,143.58 300.81,143.57 300.99,143.57 301.17,143.56 301.36,143.55 301.54,143.54 301.73,143.53 301.91,143.52 302.09,143.51 302.28,143.49 302.46,143.47 302.64,143.45 302.83,143.43 303.01,143.4 303.19,143.37 303.38,143.33 303.56,143.29 303.74,143.24 303.93,143.19 304.11,143.12 304.29,143.06 304.48,142.98 304.66,142.89 304.84,142.8 305.03,142.69 305.21,142.58 305.4,142.45 305.58,142.31 305.76,142.15 305.95,141.98 306.13,141.8 306.31,141.6 306.5,141.38 306.68,141.15 306.86,140.9 307.05,140.63 307.23,140.35 307.41,140.05 307.6,139.73 307.78,139.39 307.96,139.04 308.15,138.66 308.33,138.28 308.51,137.88 308.7,137.46 308.88,137.04 309.07,136.6 309.25,136.15 309.43,135.7 309.62,135.24 309.8,134.78 309.98,134.32 310.17,133.86 310.35,133.41 310.53,132.96 310.72,132.52 310.9,132.1 311.08,131.7 311.27,131.31 311.45,130.94 311.63,130.6 311.82,130.29 312,130 312.18,129.75 312.37,129.53 312.55,129.34 312.74,129.19 312.92,129.07 313.1,129 313.29,128.96 313.47,128.97 313.65,129.02 313.84,129.12 314.02,129.27 314.2,129.47 314.39,129.71 314.57,129.98 314.75,130.3 314.94,130.65 315.12,131.03 315.3,131.43 315.49,131.86 315.67,132.31 315.85,132.77 316.04,133.25 316.22,133.73 316.41,134.21 316.59,134.7 316.77,135.18 316.96,135.65 317.14,136.12 317.32,136.57 317.51,137.01 317.69,137.43 317.87,137.84 318.06,138.23 318.24,138.59 318.42,138.94 318.61,139.26 318.79,139.57 318.97,139.85 319.16,140.11 319.34,140.35 319.52,140.57 319.71,140.77 319.89,140.96 320.08,141.12 320.26,141.27 320.44,141.41 320.63,141.53 320.81,141.64 320.99,141.74 321.18,141.83 321.36,141.91 321.54,141.98 321.73,142.04 321.91,142.09 322.09,142.14 322.28,142.19 322.46,142.23 322.64,142.26 322.83,142.3 323.01,142.33 323.19,142.36 323.38,142.38 323.56,142.41 323.75,142.43 323.93,142.46 324.11,142.48 324.3,142.5 324.48,142.52 324.66,142.54 324.85,142.56 325.03,142.58 325.21,142.61 325.4,142.63 325.58,142.65 325.76,142.67 325.95,142.68 326.13,142.7 326.31,142.72 326.5,142.74 326.68,142.76 326.86,142.78 327.05,142.8 327.23,142.81 327.42,142.83 327.6,142.84 327.78,142.86 327.97,142.87 328.15,142.89 328.33,142.9 328.52,142.91 328.7,142.92 328.88,142.93 329.07,142.94 329.25,142.95 329.43,142.95 329.62,142.96 329.8,142.96 329.98,142.97 330.17,142.97 330.35,142.97 330.53,142.97 330.72,142.97 330.9,142.96 331.09,142.96 331.27,142.95 331.45,142.94 331.64,142.94 331.82,142.93 332,142.91 332.19,142.9 332.37,142.89 332.55,142.87 332.74,142.86 332.92,142.84 333.1,142.82 333.29,142.8 333.47,142.78 333.65,142.76 333.84,142.73 334.02,142.71 334.2,142.69 334.39,142.66 334.57,142.63 334.76,142.6 334.94,142.58 335.12,142.55 335.31,142.51 335.49,142.48 335.67,142.45 335.86,142.42 336.04,142.39 336.22,142.35 336.41,142.32 336.59,142.28 336.77,142.25 336.96,142.21 337.14,142.18 337.32,142.14 337.51,142.11 337.69,142.07 337.87,142.03 338.06,142 338.24,141.96 338.43,141.93 338.61,141.89 338.79,141.86 338.98,141.83 339.16,141.79 339.34,141.76 339.53,141.73 339.71,141.7 339.89,141.67 340.08,141.64 340.26,141.61 340.44,141.59 340.63,141.56 340.81,141.54 340.99,141.51 341.18,141.49 341.36,141.47 341.54,141.45 341.73,141.43 341.91,141.41 342.1,141.4 342.28,141.38 342.46,141.37 342.65,141.35 342.83,141.34 343.01,141.33 343.2,141.32 343.38,141.31 343.56,141.31 343.75,141.3 343.93,141.29 344.11,141.29 344.3,141.29 344.48,141.29 344.66,141.29 344.85,141.29 345.03,141.29 345.21,141.29 345.4,141.3 345.58,141.3 345.77,141.31 345.95,141.32 346.13,141.33 346.32,141.34 346.5,141.35 346.68,141.36 346.87,141.37 347.05,141.39 347.23,141.4 347.42,141.41 347.6,141.43 347.78,141.45 347.97,141.46 348.15,141.48 348.33,141.5 348.52,141.52 348.7,141.54 348.88,141.56 349.07,141.58 349.25,141.6 349.44,141.63 349.62,141.65 349.8,141.67 349.99,141.69 350.17,141.72 350.35,141.74 350.54,141.76 350.72,141.79 350.9,141.81 351.09,141.83 351.27,141.86 351.45,141.88 351.64,141.91 351.82,141.93 352,141.95 352.19,141.98 352.37,142 352.55,142.02 352.74,142.05 352.92,142.07 353.11,142.09 353.29,142.11 353.47,142.13 353.66,142.16 353.84,142.18 354.02,142.2 354.21,142.22 354.39,142.24 354.57,142.25 354.76,142.27 354.94,142.29 355.12,142.31 355.31,142.32 355.49,142.34 355.67,142.35 355.86,142.37 356.04,142.38 356.22,142.39 356.41,142.41 356.59,142.42 356.78,142.43 356.96,142.44 357.14,142.45 357.33,142.46 357.51,142.46 357.69,142.47 357.88,142.48 358.06,142.48 358.24,142.49 358.43,142.49 358.61,142.49 358.79,142.49 358.98,142.5 359.16,142.5 359.34,142.5 359.53,142.5 359.71,142.49 359.89,142.49 360.08,142.49 360.26,142.49 360.45,142.48 360.63,142.48 360.81,142.47 361,142.46 361.18,142.46 361.36,142.45 361.55,142.44 361.73,142.43 361.91,142.42 362.1,142.41 362.28,142.4 362.46,142.39 362.65,142.38 362.83,142.37 363.01,142.36 363.2,142.35 363.38,142.33 363.56,142.32 363.75,142.31 363.93,142.29 364.12,142.28 364.3,142.26 364.48,142.25 364.67,142.23 364.85,142.22 365.03,142.21 365.22,142.19 365.4,142.17 365.58,142.16 365.77,142.14 365.95,142.13 366.13,142.11 366.32,142.1 366.5,142.08 366.68,142.07 366.87,142.05 367.05,142.04 367.23,142.02 367.42,142.01 367.6,141.99 367.79,141.98 367.97,141.97 368.15,141.95 368.34,141.94 368.52,141.93 368.7,141.91 368.89,141.9 369.07,141.89 369.25,141.88 369.44,141.86 369.62,141.85 369.8,141.84 369.99,141.83 370.17,141.82 370.35,141.81 370.54,141.8 370.72,141.79 370.9,141.79 371.09,141.78 371.27,141.77 371.46,141.76 371.64,141.76 371.82,141.75 372.01,141.75 372.19,141.74 372.37,141.74 372.56,141.73 372.74,141.73 372.92,141.73 373.11,141.72 373.29,141.72 373.47,141.72 373.66,141.72 373.84,141.72 374.02,141.72 374.21,141.72 374.39,141.72 374.57,141.72 374.76,141.72 374.94,141.73 375.13,141.73 375.31,141.73 375.49,141.74 375.68,141.74 375.86,141.74 376.04,141.75 376.23,141.75 376.41,141.76 376.59,141.77 376.78,141.77 376.96,141.78 377.14,141.79 377.33,141.79 377.51,141.8 377.69,141.81 377.88,141.82 378.06,141.82 378.24,141.83 378.43,141.84 378.61,141.85 378.8,141.86 378.98,141.87 379.16,141.88 379.35,141.89 379.53,141.9 379.71,141.91 379.9,141.92 380.08,141.93 380.26,141.94 380.45,141.95 380.63,141.96 380.81,141.96 381,141.97 381.18,141.98 381.36,141.99 381.55,142 381.73,142.01 381.91,142.02 382.1,142.03 382.28,142.04 382.47,142.05 382.65,142.06 382.83,142.07 383.02,142.08 383.2,142.09 383.38,142.09 383.57,142.1 383.75,142.11 383.93,142.12 384.12,142.13 384.3,142.13 384.48,142.14 384.67,142.15 384.85,142.15 385.03,142.16 385.22,142.16 385.4,142.17 385.58,142.18 385.77,142.18 385.95,142.18 386.14,142.19 386.32,142.19 386.5,142.2 386.69,142.2 386.87,142.2 387.05,142.21 387.24,142.21 387.42,142.21 387.6,142.21 387.79,142.21 387.97,142.22 388.15,142.22 388.34,142.22 388.52,142.22 388.7,142.22 388.89,142.22 389.07,142.22 389.25,142.22 389.44,142.21 389.62,142.21 389.81,142.21 389.99,142.21 390.17,142.21 390.36,142.2 390.54,142.2 390.72,142.2 390.91,142.19 391.09,142.19 391.27,142.19 391.46,142.18 391.64,142.18 391.82,142.18 392.01,142.17 392.19,142.17 392.37,142.16 392.56,142.16 392.74,142.15 392.92,142.14 393.11,142.14 393.29,142.13 393.48,142.13 393.66,142.12 393.84,142.12 394.03,142.11 394.21,142.1 394.39,142.1 394.58,142.09 394.76,142.09 394.94,142.08 395.13,142.07 395.31,142.07 395.49,142.06 395.68,142.05 395.86,142.05 396.04,142.04 396.23,142.04 396.41,142.03 396.59,142.02 396.78,142.02 396.96,142.01 397.15,142.01 397.33,142 397.51,141.99 397.7,141.99 397.88,141.98 398.06,141.98 398.25,141.97 398.43,141.97 398.61,141.96 398.8,141.96 398.98,141.95 399.16,141.95 399.35,141.94 399.53,141.94 399.71,141.94 399.9,141.93 400.08,141.93 400.26,141.93 400.45,141.92 400.63,141.92 400.82,141.92 401,141.91 401.18,141.91 401.37,141.91 401.55,141.91 401.73,141.91 401.92,141.9 402.1,141.9 402.28,141.9 402.47,141.9 402.65,141.9 402.83,141.9 403.02,141.9 403.2,141.9 403.38,141.9 403.57,141.9 403.75,141.9 403.93,141.9 404.12,141.9 404.3,141.9 404.49,141.9 404.67,141.9 404.85,141.91 405.04,141.91 405.22,141.91 405.4,141.91 405.59,141.91 405.77,141.92 405.95,141.92 406.14,141.92 406.32,141.92 406.5,141.93 406.69,141.93 406.87,141.93 407.05,141.93 407.24,141.94 407.42,141.94 407.6,141.94 407.79,141.95 407.97,141.95 408.16,141.96 408.34,141.96 408.52,141.96 408.71,141.97 408.89,141.97 409.07,141.97 409.26,141.98 409.44,141.98 409.62,141.99 409.81,141.99 409.99,142 410.17,142 410.36,142 410.54,142.01 410.72,142.01 410.91,142.02 411.09,142.02 411.27,142.02 411.46,142.03 411.64,142.03 411.83,142.03 412.01,142.04 412.19,142.04 412.38,142.05 412.56,142.05 412.74,142.05 412.93,142.06 413.11,142.06 413.29,142.06 413.48,142.07 413.66,142.07 413.84,142.07 414.03,142.07 414.21,142.08 414.39,142.08 414.58,142.08 414.76,142.08 414.94,142.09 415.13,142.09 415.31,142.09 415.5,142.09 415.68,142.09 415.86,142.09 416.05,142.1 416.23,142.1 416.41,142.1 416.6,142.1 416.78,142.1 416.96,142.1 417.15,142.1 417.33,142.1 417.51,142.1 417.7,142.1 417.88,142.1 418.06,142.1 418.25,142.1 418.43,142.1 418.61,142.1 418.8,142.1 418.98,142.1 419.17,142.1 419.35,142.1 419.53,142.1 419.72,142.1 419.9,142.1 420.08,142.1 420.27,142.09 420.45,142.09" fill="none" stroke="#7fb9e2" stroke-width="1.0" stroke-linejoin="round"/>
<polyline points="255.3,143.6 255.48,143.6 255.67,143.6 255.85,143.6 256.03,143.6 256.22,143.6 256.4,143.6 256.58,143.6 256.77,143.6 256.95,143.6 257.13,143.6 257.32,143.6 257.5,143.6 257.69,143.6 257.87,143.6 258.05,143.6 258.24,143.6 258.42,143.6 258.6,143.6 258.79,143.6 258.97,143.6 259.15,143.6 259.34,143.6 259.52,143.6 259.7,143.6 259.89,143.6 260.07,143.6 260.25,143.6 260.44,143.6 260.62,143.6 260.81,143.6 260.99,143.6 261.17,143.6 261.36,143.6 261.54,143.6 261.72,143.6 261.91,143.6 262.09,143.6 262.27,143.6 262.46,143.6 262.64,143.6 262.82,143.6 263.01,143.6 263.19,143.6 263.37,143.6 263.56,143.6 263.74,143.6 263.92,143.6 264.11,143.6 264.29,143.6 264.48,143.6 264.66,143.59 264.84,143.59 265.03,143.59 265.21,143.59 265.39,143.58 265.58,143.57 265.76,143.57 265.94,143.56 266.13,143.54 266.31,143.52 266.49,143.5 266.68,143.47 266.86,143.43 267.04,143.38 267.23,143.31 267.41,143.23 267.59,143.12 267.78,142.99 267.96,142.81 268.15,142.59 268.33,142.32 268.51,141.97 268.7,141.54 268.88,141 269.06,140.33 269.25,139.5 269.43,138.49 269.61,137.24 269.8,135.73 269.98,133.9 270.16,131.7 270.35,129.08 270.53,125.96 270.71,122.29 270.9,118.01 271.08,113.07 271.26,107.42 271.45,101.05 271.63,94 271.82,86.34 272,78.29 272.18,70.24 272.37,63.02 272.55,62.39 272.73,67.8 272.92,74.02 273.1,80.43 273.28,86.76 273.47,92.82 273.65,98.53 273.83,103.82 274.02,108.67 274.2,113.07 274.38,117.03 274.57,120.57 274.75,123.71 274.93,126.49 275.12,128.93 275.3,131.06 275.49,132.91 275.67,134.52 275.85,135.91 276.04,137.1 276.22,138.12 276.4,138.99 276.59,139.74 276.77,140.37 276.95,140.9 277.14,141.35 277.32,141.73 277.5,142.05 277.69,142.32 277.87,142.54 278.05,142.73 278.24,142.88 278.42,143.01 278.6,143.12 278.79,143.2 278.97,143.28 279.15,143.34 279.34,143.39 279.52,143.43 279.71,143.46 279.89,143.49 280.07,143.51 280.26,143.53 280.44,143.54 280.62,143.55 280.81,143.56 280.99,143.57 281.17,143.57 281.36,143.58 281.54,143.58 281.72,143.59 281.91,143.59 282.09,143.59 282.27,143.59 282.46,143.59 282.64,143.6 282.82,143.6 283.01,143.6 283.19,143.6 283.38,143.6 283.56,143.6 283.74,143.6 283.93,143.6 284.11,143.6 284.29,143.6 284.48,143.6 284.66,143.6 284.84,143.6 285.03,143.6 285.21,143.6 285.39,143.6 285.58,143.6 285.76,143.6 285.94,143.6 286.13,143.6 286.31,143.6 286.49,143.6 286.68,143.6 286.86,143.6 287.05,143.6 287.23,143.6 287.41,143.6 287.6,143.6 287.78,143.6 287.96,143.6 288.15,143.6 288.33,143.6 288.51,143.6 288.7,143.6 288.88,143.6 289.06,143.6 289.25,143.6 289.43,143.6 289.61,143.6 289.8,143.6 289.98,143.6 290.16,143.6 290.35,143.6 290.53,143.6 290.72,143.6 290.9,143.6 291.08,143.6 291.27,143.6 291.45,143.6 291.63,143.6 291.82,143.6 292,143.6 292.18,143.6 292.37,143.6 292.55,143.6 292.73,143.6 292.92,143.6 293.1,143.6 293.28,143.6 293.47,143.6 293.65,143.6 293.83,143.6 294.02,143.6 294.2,143.6 294.39,143.6 294.57,143.6 294.75,143.6 294.94,143.6 295.12,143.6 295.3,143.6 295.49,143.6 295.67,143.6 295.85,143.6 296.04,143.6 296.22,143.6 296.4,143.6 296.59,143.6 296.77,143.6 296.95,143.6 297.14,143.6 297.32,143.6 297.5,143.6 297.69,143.6 297.87,143.6 298.06,143.6 298.24,143.59 298.42,143.59 298.61,143.59 298.79,143.59 298.97,143.59 299.16,143.59 299.34,143.59 299.52,143.59 299.71,143.58 299.89,143.58 300.07,143.58 300.26,143.57 300.44,143.57 300.62,143.56 300.81,143.56 300.99,143.55 301.17,143.54 301.36,143.53 301.54,143.52 301.73,143.51 301.91,143.5 302.09,143.48 302.28,143.47 302.46,143.45 302.64,143.43 302.83,143.4 303.01,143.37 303.19,143.34 303.38,143.31 303.56,143.27 303.74,143.23 303.93,143.19 304.11,143.14 304.29,143.09 304.48,143.03 304.66,142.96 304.84,142.9 305.03,142.82 305.21,142.74 305.4,142.66 305.58,142.56 305.76,142.46 305.95,142.36 306.13,142.25 306.31,142.13 306.5,142.01 306.68,141.88 306.86,141.75 307.05,141.61 307.23,141.46 307.41,141.31 307.6,141.16 307.78,141 307.96,140.84 308.15,140.67 308.33,140.51 308.51,140.34 308.7,140.17 308.88,140 309.07,139.84 309.25,139.67 309.43,139.51 309.62,139.35 309.8,139.2 309.98,139.05 310.17,138.91 310.35,138.78 310.53,138.66 310.72,138.54 310.9,138.44 311.08,138.34 311.27,138.26 311.45,138.19 311.63,138.13 311.82,138.08 312,138.05 312.18,138.03 312.37,138.02 312.55,138.02 312.74,138.03 312.92,138.06 313.1,138.09 313.29,138.13 313.47,138.19 313.65,138.25 313.84,138.33 314.02,138.41 314.2,138.49 314.39,138.59 314.57,138.69 314.75,138.8 314.94,138.91 315.12,139.03 315.3,139.15 315.49,139.27 315.67,139.4 315.85,139.52 316.04,139.65 316.22,139.78 316.41,139.91 316.59,140.03 316.77,140.15 316.96,140.28 317.14,140.4 317.32,140.51 317.51,140.62 317.69,140.73 317.87,140.84 318.06,140.94 318.24,141.04 318.42,141.13 318.61,141.22 318.79,141.31 318.97,141.39 319.16,141.46 319.34,141.53 319.52,141.6 319.71,141.67 319.89,141.73 320.08,141.78 320.26,141.84 320.44,141.89 320.63,141.94 320.81,141.98 320.99,142.02 321.18,142.06 321.36,142.1 321.54,142.14 321.73,142.17 321.91,142.21 322.09,142.24 322.28,142.27 322.46,142.3 322.64,142.33 322.83,142.36 323.01,142.38 323.19,142.41 323.38,142.44 323.56,142.46 323.75,142.49 323.93,142.52 324.11,142.54 324.3,142.57 324.48,142.59 324.66,142.62 324.85,142.64 325.03,142.67 325.21,142.69 325.4,142.72 325.58,142.74 325.76,142.76 325.95,142.79 326.13,142.81 326.31,142.83 326.5,142.86 326.68,142.88 326.86,142.9 327.05,142.92 327.23,142.94 327.42,142.96 327.6,142.98 327.78,143 327.97,143.01 328.15,143.03 328.33,143.04 328.52,143.06 328.7,143.07 328.88,143.08 329.07,143.09 329.25,143.1 329.43,143.11 329.62,143.11 329.8,143.12 329.98,143.12 330.17,143.12 330.35,143.13 330.53,143.13 330.72,143.12 330.9,143.12 331.09,143.12 331.27,143.11 331.45,143.1 331.64,143.09 331.82,143.08 332,143.07 332.19,143.06 332.37,143.04 332.55,143.03 332.74,143.01 332.92,142.99 333.1,142.97 333.29,142.95 333.47,142.93 333.65,142.9 333.84,142.88 334.02,142.85 334.2,142.82 334.39,142.8 334.57,142.77 334.76,142.74 334.94,142.7 335.12,142.67 335.31,142.64 335.49,142.61 335.67,142.57 335.86,142.54 336.04,142.5 336.22,142.46 336.41,142.43 336.59,142.39 336.77,142.35 336.96,142.31 337.14,142.27 337.32,142.23 337.51,142.19 337.69,142.16 337.87,142.12 338.06,142.08 338.24,142.04 338.43,142 338.61,141.96 338.79,141.93 338.98,141.89 339.16,141.85 339.34,141.82 339.53,141.79 339.71,141.75 339.89,141.72 340.08,141.69 340.26,141.66 340.44,141.63 340.63,141.6 340.81,141.58 340.99,141.55 341.18,141.53 341.36,141.5 341.54,141.48 341.73,141.46 341.91,141.44 342.1,141.42 342.28,141.41 342.46,141.39 342.65,141.38 342.83,141.36 343.01,141.35 343.2,141.34 343.38,141.33 343.56,141.32 343.75,141.32 343.93,141.31 344.11,141.31 344.3,141.3 344.48,141.3 344.66,141.3 344.85,141.3 345.03,141.31 345.21,141.31 345.4,141.32 345.58,141.32 345.77,141.33 345.95,141.34 346.13,141.35 346.32,141.36 346.5,141.37 346.68,141.38 346.87,141.4 347.05,141.41 347.23,141.43 347.42,141.44 347.6,141.46 347.78,141.48 347.97,141.5 348.15,141.52 348.33,141.54 348.52,141.56 348.7,141.58 348.88,141.6 349.07,141.62 349.25,141.65 349.44,141.67 349.62,141.7 349.8,141.72 349.99,141.75 350.17,141.77 350.35,141.8 350.54,141.82 350.72,141.85 350.9,141.87 351.09,141.9 351.27,141.93 351.45,141.95 351.64,141.98 351.82,142 352,142.03 352.19,142.06 352.37,142.08 352.55,142.11 352.74,142.13 352.92,142.16 353.11,142.18 353.29,142.2 353.47,142.23 353.66,142.25 353.84,142.27 354.02,142.29 354.21,142.32 354.39,142.34 354.57,142.36 354.76,142.38 354.94,142.4 355.12,142.41 355.31,142.43 355.49,142.45 355.67,142.47 355.86,142.48 356.04,142.5 356.22,142.51 356.41,142.52 356.59,142.54 356.78,142.55 356.96,142.56 357.14,142.57 357.33,142.58 357.51,142.59 357.69,142.59 357.88,142.6 358.06,142.61 358.24,142.61 358.43,142.61 358.61,142.62 358.79,142.62 358.98,142.62 359.16,142.62 359.34,142.62 359.53,142.62 359.71,142.62 359.89,142.62 360.08,142.61 360.26,142.61 360.45,142.61 360.63,142.6 360.81,142.59 361,142.59 361.18,142.58 361.36,142.57 361.55,142.56 361.73,142.55 361.91,142.54 362.1,142.53 362.28,142.52 362.46,142.51 362.65,142.5 362.83,142.48 363.01,142.47 363.2,142.46 363.38,142.44 363.56,142.43 363.75,142.41 363.93,142.4 364.12,142.38 364.3,142.37 364.48,142.35 364.67,142.34 364.85,142.32 365.03,142.3 365.22,142.29 365.4,142.27 365.58,142.25 365.77,142.24 365.95,142.22 366.13,142.2 366.32,142.19 366.5,142.17 366.68,142.15 366.87,142.14 367.05,142.12 367.23,142.11 367.42,142.09 367.6,142.07 367.79,142.06 367.97,142.04 368.15,142.03 368.34,142.01 368.52,142 368.7,141.98 368.89,141.97 369.07,141.96 369.25,141.94 369.44,141.93 369.62,141.92 369.8,141.91 369.99,141.9 370.17,141.89 370.35,141.88 370.54,141.87 370.72,141.86 370.9,141.85 371.09,141.84 371.27,141.83 371.46,141.82 371.64,141.82 371.82,141.81 372.01,141.8 372.19,141.8 372.37,141.79 372.56,141.79 372.74,141.79 372.92,141.78 373.11,141.78 373.29,141.78 373.47,141.78 373.66,141.78 373.84,141.77 374.02,141.77 374.21,141.78 374.39,141.78 374.57,141.78 374.76,141.78 374.94,141.78 375.13,141.79 375.31,141.79 375.49,141.79 375.68,141.8 375.86,141.8 376.04,141.81 376.23,141.81 376.41,141.82 376.59,141.83 376.78,141.83 376.96,141.84 377.14,141.85 377.33,141.86 377.51,141.86 377.69,141.87 377.88,141.88 378.06,141.89 378.24,141.9 378.43,141.91 378.61,141.92 378.8,141.93 378.98,141.94 379.16,141.95 379.35,141.96 379.53,141.97 379.71,141.98 379.9,141.99 380.08,142 380.26,142.01 380.45,142.02 380.63,142.03 380.81,142.04 381,142.05 381.18,142.06 381.36,142.07 381.55,142.09 381.73,142.1 381.91,142.11 382.1,142.12 382.28,142.13 382.47,142.14 382.65,142.15 382.83,142.16 383.02,142.17 383.2,142.17 383.38,142.18 383.57,142.19 383.75,142.2 383.93,142.21 384.12,142.22 384.3,142.23 384.48,142.23 384.67,142.24 384.85,142.25 385.03,142.25 385.22,142.26 385.4,142.27 385.58,142.27 385.77,142.28 385.95,142.28 386.14,142.29 386.32,142.29 386.5,142.3 386.69,142.3 386.87,142.3 387.05,142.31 387.24,142.31 387.42,142.31 387.6,142.31 387.79,142.32 387.97,142.32 388.15,142.32 388.34,142.32 388.52,142.32 388.7,142.32 388.89,142.32 389.07,142.32 389.25,142.32 389.44,142.31 389.62,142.31 389.81,142.31 389.99,142.31 390.17,142.31 390.36,142.3 390.54,142.3 390.72,142.3 390.91,142.29 391.09,142.29 391.27,142.29 391.46,142.28 391.64,142.28 391.82,142.27 392.01,142.27 392.19,142.26 392.37,142.26 392.56,142.25 392.74,142.24 392.92,142.24 393.11,142.23 393.29,142.23 393.48,142.22 393.66,142.21 393.84,142.21 394.03,142.2 394.21,142.19 394.39,142.19 394.58,142.18 394.76,142.17 394.94,142.17 395.13,142.16 395.31,142.15 395.49,142.15 395.68,142.14 395.86,142.13 396.04,142.13 396.23,142.12 396.41,142.11 396.59,142.11 396.78,142.1 396.96,142.09 397.15,142.09 397.33,142.08 397.51,142.07 397.7,142.07 397.88,142.06 398.06,142.06 398.25,142.05 398.43,142.05 398.61,142.04 398.8,142.03 398.98,142.03 399.16,142.02 399.35,142.02 399.53,142.02 399.71,142.01 399.9,142.01 400.08,142 400.26,142 400.45,142 400.63,141.99 400.82,141.99 401,141.99 401.18,141.98 401.37,141.98 401.55,141.98 401.73,141.98 401.92,141.98 402.1,141.97 402.28,141.97 402.47,141.97 402.65,141.97 402.83,141.97 403.02,141.97 403.2,141.97 403.38,141.97 403.57,141.97 403.75,141.97 403.93,141.97 404.12,141.97 404.3,141.97 404.49,141.97 404.67,141.98 404.85,141.98 405.04,141.98 405.22,141.98 405.4,141.98 405.59,141.99 405.77,141.99 405.95,141.99 406.14,141.99 406.32,142 406.5,142 406.69,142 406.87,142.01 407.05,142.01 407.24,142.01 407.42,142.02 407.6,142.02 407.79,142.02 407.97,142.03 408.16,142.03 408.34,142.04 408.52,142.04 408.71,142.05 408.89,142.05 409.07,142.05 409.26,142.06 409.44,142.06 409.62,142.07 409.81,142.07 409.99,142.08 410.17,142.08 410.36,142.08 410.54,142.09 410.72,142.09 410.91,142.1 411.09,142.1 411.27,142.11 411.46,142.11 411.64,142.11 411.83,142.12 412.01,142.12 412.19,142.13 412.38,142.13 412.56,142.13 412.74,142.14 412.93,142.14 413.11,142.15 413.29,142.15 413.48,142.15 413.66,142.16 413.84,142.16 414.03,142.16 414.21,142.16 414.39,142.17 414.58,142.17 414.76,142.17 414.94,142.17 415.13,142.18 415.31,142.18 415.5,142.18 415.68,142.18 415.86,142.18 416.05,142.19 416.23,142.19 416.41,142.19 416.6,142.19 416.78,142.19 416.96,142.19 417.15,142.19 417.33,142.19 417.51,142.19 417.7,142.19 417.88,142.19 418.06,142.19 418.25,142.19 418.43,142.19 418.61,142.19 418.8,142.19 418.98,142.19 419.17,142.19 419.35,142.19 419.53,142.19 419.72,142.19 419.9,142.19 420.08,142.18 420.27,142.18 420.45,142.18" fill="none" stroke="#3264ac" stroke-width="1.1" stroke-linejoin="round"/>
<polyline points="255.3,143.6 255.48,143.6 255.67,143.6 255.85,143.6 256.03,143.6 256.22,143.6 256.4,143.6 256.58,143.6 256.77,143.6 256.95,143.6 257.13,143.6 257.32,143.6 257.5,143.6 257.69,143.6 257.87,143.6 258.05,143.6 258.24,143.6 258.42,143.6 258.6,143.6 258.79,143.6 258.97,143.6 259.15,143.6 259.34,143.6 259.52,143.6 259.7,143.6 259.89,143.6 260.07,143.6 260.25,143.6 260.44,143.6 260.62,143.6 260.81,143.6 260.99,143.6 261.17,143.6 261.36,143.6 261.54,143.6 261.72,143.6 261.91,143.6 262.09,143.6 262.27,143.6 262.46,143.6 262.64,143.6 262.82,143.6 263.01,143.6 263.19,143.6 263.37,143.6 263.56,143.6 263.74,143.6 263.92,143.6 264.11,143.6 264.29,143.6 264.48,143.6 264.66,143.6 264.84,143.6 265.03,143.6 265.21,143.6 265.39,143.6 265.58,143.6 265.76,143.6 265.94,143.6 266.13,143.6 266.31,143.6 266.49,143.6 266.68,143.6 266.86,143.6 267.04,143.6 267.23,143.6 267.41,143.6 267.59,143.6 267.78,143.6 267.96,143.6 268.15,143.59 268.33,143.49 268.51,142.56 268.7,138.31 268.88,127.57 269.06,111.18 269.25,95.01 269.43,84.34 269.61,79.81 269.8,78.88 269.98,78.88 270.16,79.81 270.35,84.34 270.53,95.01 270.71,111.18 270.9,127.57 271.08,138.31 271.26,142.56 271.45,143.49 271.63,143.59 271.82,143.6 272,143.6 272.18,143.6 272.37,143.6 272.55,143.6 272.73,143.6 272.92,143.6 273.1,143.6 273.28,143.6 273.47,143.6 273.65,143.6 273.83,143.6 274.02,143.6 274.2,143.6 274.38,143.6 274.57,143.6 274.75,143.6 274.93,143.6 275.12,143.6 275.3,143.6 275.49,143.6 275.67,143.6 275.85,143.6 276.04,143.6 276.22,143.6 276.4,143.6 276.59,143.6 276.77,143.6 276.95,143.6 277.14,143.6 277.32,143.6 277.5,143.6 277.69,143.6 277.87,143.6 278.05,143.6 278.24,143.6 278.42,143.6 278.6,143.6 278.79,143.6 278.97,143.6 279.15,143.6 279.34,143.6 279.52,143.6 279.71,143.6 279.89,143.6 280.07,143.6 280.26,143.6 280.44,143.6 280.62,143.6 280.81,143.6 280.99,143.6 281.17,143.6 281.36,143.6 281.54,143.6 281.72,143.6 281.91,143.6 282.09,143.6 282.27,143.6 282.46,143.6 282.64,143.6 282.82,143.6 283.01,143.6 283.19,143.6 283.38,143.6 283.56,143.6 283.74,143.6 283.93,143.6 284.11,143.6 284.29,143.6 284.48,143.6 284.66,143.6 284.84,143.6 285.03,143.6 285.21,143.6 285.39,143.6 285.58,143.6 285.76,143.6 285.94,143.6 286.13,143.6 286.31,143.6 286.49,143.6 286.68,143.6 286.86,143.6 287.05,143.6 287.23,143.6 287.41,143.6 287.6,143.6 287.78,143.6 287.96,143.6 288.15,143.6 288.33,143.6 288.51,143.6 288.7,143.6 288.88,143.6 289.06,143.6 289.25,143.6 289.43,143.6 289.61,143.6 289.8,143.6 289.98,143.6 290.16,143.6 290.35,143.6 290.53,143.6 290.72,143.6 290.9,143.6 291.08,143.6 291.27,143.6 291.45,143.6 291.63,143.6 291.82,143.6 292,143.6 292.18,143.6 292.37,143.6 292.55,143.6 292.73,143.6 292.92,143.6 293.1,143.6 293.28,143.6 293.47,143.6 293.65,143.6 293.83,143.6 294.02,143.6 294.2,143.6 294.39,143.6 294.57,143.6 294.75,143.6 294.94,143.6 295.12,143.6 295.3,143.6 295.49,143.6 295.67,143.6 295.85,143.6 296.04,143.6 296.22,143.6 296.4,143.6 296.59,143.6 296.77,143.6 296.95,143.6 297.14,143.59 297.32,143.59 297.5,143.59 297.69,143.59 297.87,143.59 298.06,143.59 298.24,143.58 298.42,143.58 298.61,143.58 298.79,143.57 298.97,143.57 299.16,143.56 299.34,143.55 299.52,143.54 299.71,143.53 299.89,143.52 300.07,143.51 300.26,143.49 300.44,143.47 300.62,143.45 300.81,143.42 300.99,143.39 301.17,143.36 301.36,143.32 301.54,143.27 301.73,143.22 301.91,143.16 302.09,143.1 302.28,143.02 302.46,142.94 302.64,142.85 302.83,142.75 303.01,142.63 303.19,142.51 303.38,142.37 303.56,142.21 303.74,142.05 303.93,141.86 304.11,141.67 304.29,141.45 304.48,141.22 304.66,140.97 304.84,140.71 305.03,140.43 305.21,140.13 305.4,139.81 305.58,139.48 305.76,139.13 305.95,138.76 306.13,138.38 306.31,137.99 306.5,137.59 306.68,137.17 306.86,136.75 307.05,136.32 307.23,135.89 307.41,135.45 307.6,135.02 307.78,134.59 307.96,134.16 308.15,133.75 308.33,133.34 308.51,132.95 308.7,132.58 308.88,132.23 309.07,131.91 309.25,131.6 309.43,131.33 309.62,131.09 309.8,130.88 309.98,130.7 310.17,130.56 310.35,130.46 310.53,130.39 310.72,130.36 310.9,130.38 311.08,130.43 311.27,130.52 311.45,130.66 311.63,130.83 311.82,131.03 312,131.28 312.18,131.55 312.37,131.86 312.55,132.19 312.74,132.54 312.92,132.92 313.1,133.31 313.29,133.72 313.47,134.13 313.65,134.56 313.84,134.99 314.02,135.42 314.2,135.85 314.39,136.27 314.57,136.69 314.75,137.1 314.94,137.5 315.12,137.88 315.3,138.25 315.49,138.61 315.67,138.94 315.85,139.26 316.04,139.57 316.22,139.85 316.41,140.11 316.59,140.36 316.77,140.59 316.96,140.79 317.14,140.98 317.32,141.16 317.51,141.32 317.69,141.46 317.87,141.58 318.06,141.7 318.24,141.8 318.42,141.89 318.61,141.97 318.79,142.03 318.97,142.09 319.16,142.14 319.34,142.19 319.52,142.22 319.71,142.26 319.89,142.28 320.08,142.31 320.26,142.33 320.44,142.34 320.63,142.36 320.81,142.37 320.99,142.38 321.18,142.39 321.36,142.4 321.54,142.41 321.73,142.42 321.91,142.43 322.09,142.44 322.28,142.45 322.46,142.46 322.64,142.47 322.83,142.48 323.01,142.5 323.19,142.51 323.38,142.53 323.56,142.54 323.75,142.56 323.93,142.58 324.11,142.6 324.3,142.62 324.48,142.64 324.66,142.66 324.85,142.69 325.03,142.71 325.21,142.73 325.4,142.76 325.58,142.78 325.76,142.81 325.95,142.83 326.13,142.86 326.31,142.88 326.5,142.91 326.68,142.94 326.86,142.96 327.05,142.99 327.23,143.01 327.42,143.04 327.6,143.06 327.78,143.09 327.97,143.11 328.15,143.13 328.33,143.15 328.52,143.17 328.7,143.19 328.88,143.21 329.07,143.23 329.25,143.25 329.43,143.26 329.62,143.28 329.8,143.29 329.98,143.31 330.17,143.32 330.35,143.33 330.53,143.34 330.72,143.34 330.9,143.35 331.09,143.35 331.27,143.36 331.45,143.36 331.64,143.36 331.82,143.36 332,143.36 332.19,143.35 332.37,143.35 332.55,143.34 332.74,143.33 332.92,143.32 333.1,143.31 333.29,143.3 333.47,143.28 333.65,143.27 333.84,143.25 334.02,143.23 334.2,143.21 334.39,143.19 334.57,143.17 334.76,143.14 334.94,143.12 335.12,143.09 335.31,143.07 335.49,143.04 335.67,143.01 335.86,142.98 336.04,142.95 336.22,142.92 336.41,142.88 336.59,142.85 336.77,142.81 336.96,142.78 337.14,142.74 337.32,142.71 337.51,142.67 337.69,142.63 337.87,142.59 338.06,142.55 338.24,142.52 338.43,142.48 338.61,142.44 338.79,142.4 338.98,142.36 339.16,142.32 339.34,142.29 339.53,142.25 339.71,142.21 339.89,142.18 340.08,142.14 340.26,142.11 340.44,142.08 340.63,142.04 340.81,142.01 340.99,141.98 341.18,141.95 341.36,141.92 341.54,141.89 341.73,141.87 341.91,141.84 342.1,141.82 342.28,141.79 342.46,141.77 342.65,141.75 342.83,141.73 343.01,141.71 343.2,141.69 343.38,141.68 343.56,141.66 343.75,141.65 343.93,141.63 344.11,141.62 344.3,141.61 344.48,141.6 344.66,141.6 344.85,141.59 345.03,141.59 345.21,141.58 345.4,141.58 345.58,141.58 345.77,141.58 345.95,141.58 346.13,141.58 346.32,141.58 346.5,141.59 346.68,141.6 346.87,141.6 347.05,141.61 347.23,141.62 347.42,141.63 347.6,141.64 347.78,141.65 347.97,141.67 348.15,141.68 348.33,141.7 348.52,141.71 348.7,141.73 348.88,141.75 349.07,141.77 349.25,141.78 349.44,141.8 349.62,141.82 349.8,141.85 349.99,141.87 350.17,141.89 350.35,141.91 350.54,141.94 350.72,141.96 350.9,141.98 351.09,142.01 351.27,142.03 351.45,142.06 351.64,142.08 351.82,142.11 352,142.13 352.19,142.16 352.37,142.18 352.55,142.21 352.74,142.23 352.92,142.26 353.11,142.28 353.29,142.31 353.47,142.33 353.66,142.36 353.84,142.38 354.02,142.4 354.21,142.43 354.39,142.45 354.57,142.47 354.76,142.49 354.94,142.52 355.12,142.54 355.31,142.56 355.49,142.58 355.67,142.6 355.86,142.62 356.04,142.64 356.22,142.65 356.41,142.67 356.59,142.69 356.78,142.7 356.96,142.72 357.14,142.73 357.33,142.75 357.51,142.76 357.69,142.77 357.88,142.78 358.06,142.79 358.24,142.8 358.43,142.81 358.61,142.82 358.79,142.83 358.98,142.83 359.16,142.84 359.34,142.84 359.53,142.85 359.71,142.85 359.89,142.85 360.08,142.85 360.26,142.85 360.45,142.85 360.63,142.85 360.81,142.85 361,142.85 361.18,142.85 361.36,142.84 361.55,142.84 361.73,142.83 361.91,142.83 362.1,142.82 362.28,142.81 362.46,142.8 362.65,142.8 362.83,142.79 363.01,142.78 363.2,142.77 363.38,142.76 363.56,142.75 363.75,142.73 363.93,142.72 364.12,142.71 364.3,142.7 364.48,142.68 364.67,142.67 364.85,142.65 365.03,142.64 365.22,142.62 365.4,142.61 365.58,142.59 365.77,142.58 365.95,142.56 366.13,142.55 366.32,142.53 366.5,142.52 366.68,142.5 366.87,142.48 367.05,142.47 367.23,142.45 367.42,142.43 367.6,142.42 367.79,142.4 367.97,142.39 368.15,142.37 368.34,142.36 368.52,142.34 368.7,142.32 368.89,142.31 369.07,142.29 369.25,142.28 369.44,142.27 369.62,142.25 369.8,142.24 369.99,142.22 370.17,142.21 370.35,142.2 370.54,142.19 370.72,142.17 370.9,142.16 371.09,142.15 371.27,142.14 371.46,142.13 371.64,142.12 371.82,142.11 372.01,142.1 372.19,142.1 372.37,142.09 372.56,142.08 372.74,142.07 372.92,142.07 373.11,142.06 373.29,142.06 373.47,142.05 373.66,142.05 373.84,142.05 374.02,142.04 374.21,142.04 374.39,142.04 374.57,142.04 374.76,142.04 374.94,142.03 375.13,142.03 375.31,142.04 375.49,142.04 375.68,142.04 375.86,142.04 376.04,142.04 376.23,142.05 376.41,142.05 376.59,142.05 376.78,142.06 376.96,142.06 377.14,142.07 377.33,142.07 377.51,142.08 377.69,142.08 377.88,142.09 378.06,142.1 378.24,142.1 378.43,142.11 378.61,142.12 378.8,142.13 378.98,142.14 379.16,142.15 379.35,142.15 379.53,142.16 379.71,142.17 379.9,142.18 380.08,142.19 380.26,142.2 380.45,142.21 380.63,142.22 380.81,142.23 381,142.24 381.18,142.25 381.36,142.26 381.55,142.27 381.73,142.28 381.91,142.29 382.1,142.3 382.28,142.31 382.47,142.32 382.65,142.33 382.83,142.34 383.02,142.36 383.2,142.36 383.38,142.37 383.57,142.38 383.75,142.39 383.93,142.4 384.12,142.41 384.3,142.42 384.48,142.43 384.67,142.44 384.85,142.45 385.03,142.46 385.22,142.46 385.4,142.47 385.58,142.48 385.77,142.48 385.95,142.49 386.14,142.5 386.32,142.5 386.5,142.51 386.69,142.52 386.87,142.52 387.05,142.53 387.24,142.53 387.42,142.53 387.6,142.54 387.79,142.54 387.97,142.55 388.15,142.55 388.34,142.55 388.52,142.55 388.7,142.56 388.89,142.56 389.07,142.56 389.25,142.56 389.44,142.56 389.62,142.56 389.81,142.56 389.99,142.56 390.17,142.56 390.36,142.56 390.54,142.56 390.72,142.56 390.91,142.55 391.09,142.55 391.27,142.55 391.46,142.55 391.64,142.54 391.82,142.54 392.01,142.54 392.19,142.53 392.37,142.53 392.56,142.52 392.74,142.52 392.92,142.52 393.11,142.51 393.29,142.51 393.48,142.5 393.66,142.49 393.84,142.49 394.03,142.48 394.21,142.48 394.39,142.47 394.58,142.47 394.76,142.46 394.94,142.45 395.13,142.45 395.31,142.44 395.49,142.43 395.68,142.43 395.86,142.42 396.04,142.41 396.23,142.41 396.41,142.4 396.59,142.39 396.78,142.39 396.96,142.38 397.15,142.37 397.33,142.37 397.51,142.36 397.7,142.36 397.88,142.35 398.06,142.34 398.25,142.34 398.43,142.33 398.61,142.32 398.8,142.32 398.98,142.31 399.16,142.31 399.35,142.3 399.53,142.3 399.71,142.29 399.9,142.29 400.08,142.28 400.26,142.28 400.45,142.27 400.63,142.27 400.82,142.26 401,142.26 401.18,142.26 401.37,142.25 401.55,142.25 401.73,142.25 401.92,142.24 402.1,142.24 402.28,142.24 402.47,142.23 402.65,142.23 402.83,142.23 403.02,142.23 403.2,142.23 403.38,142.23 403.57,142.23 403.75,142.22 403.93,142.22 404.12,142.22 404.3,142.22 404.49,142.22 404.67,142.22 404.85,142.22 405.04,142.22 405.22,142.23 405.4,142.23 405.59,142.23 405.77,142.23 405.95,142.23 406.14,142.23 406.32,142.23 406.5,142.24 406.69,142.24 406.87,142.24 407.05,142.24 407.24,142.25 407.42,142.25 407.6,142.25 407.79,142.26 407.97,142.26 408.16,142.26 408.34,142.27 408.52,142.27 408.71,142.27 408.89,142.28 409.07,142.28 409.26,142.28 409.44,142.29 409.62,142.29 409.81,142.3 409.99,142.3 410.17,142.3 410.36,142.31 410.54,142.31 410.72,142.32 410.91,142.32 411.09,142.33 411.27,142.33 411.46,142.33 411.64,142.34 411.83,142.34 412.01,142.35 412.19,142.35 412.38,142.36 412.56,142.36 412.74,142.36 412.93,142.37 413.11,142.37 413.29,142.37 413.48,142.38 413.66,142.38 413.84,142.39 414.03,142.39 414.21,142.39 414.39,142.4 414.58,142.4 414.76,142.4 414.94,142.41 415.13,142.41 415.31,142.41 415.5,142.41 415.68,142.42 415.86,142.42 416.05,142.42 416.23,142.42 416.41,142.43 416.6,142.43 416.78,142.43 416.96,142.43 417.15,142.43 417.33,142.43 417.51,142.43 417.7,142.44 417.88,142.44 418.06,142.44 418.25,142.44 418.43,142.44 418.61,142.44 418.8,142.44 418.98,142.44 419.17,142.44 419.35,142.44 419.53,142.44 419.72,142.44 419.9,142.44 420.08,142.44 420.27,142.44 420.45,142.44" fill="none" stroke="#ee3333" stroke-width="1.2" stroke-linejoin="round"/>
<path d="M255.6,141.6 C257.17,141.57 263.02,141.58 265,141.4 C266.98,141.22 266.75,141.13 267.5,140.5 C268.25,139.87 268.75,138.15 269.5,137.6 C270.25,137.05 267.25,137.28 272,137.2 C276.75,137.12 292.67,137.55 298,137.1 C303.33,136.65 301.8,135.82 304,134.5 C306.2,133.18 307.3,132.78 311.2,129.2 C315.1,125.62 322.9,117.5 327.4,113 C331.9,108.5 334.95,105.98 338.2,102.2 C341.45,98.42 344.37,94.45 346.9,90.3 C349.43,86.15 351.23,81.98 353.4,77.3 C355.57,72.62 357.13,68.92 359.9,62.2 C362.67,55.48 366.65,45.57 370,37 C373.35,28.43 378.33,15.17 380,10.8" fill="none" stroke="#f28a6a" stroke-width="1.15" stroke-linejoin="round" stroke-dasharray="2.4 2.2"/>
<path d="M265,142.3 C265.43,141.92 266.88,141.08 267.6,140 C268.32,138.92 268.57,136.55 269.3,135.8 C270.03,135.05 267.18,135.57 272,135.5 C276.82,135.43 293.03,135.55 298.2,135.4 C303.37,135.25 301.53,135.5 303,134.6 C304.47,133.7 305.63,132.88 307,130 C308.37,127.12 309.78,120.68 311.2,117.3 C312.62,113.92 313.52,111.5 315.5,109.7 C317.48,107.9 320.22,107.58 323.1,106.5 C325.98,105.42 329.92,104.65 332.8,103.2 C335.68,101.75 338.05,99.95 340.4,97.8 C342.75,95.65 344.02,93.72 346.9,90.3 C349.78,86.88 354.45,80.73 357.7,77.3 C360.95,73.87 363.88,71.55 366.4,69.7 C368.92,67.85 370.72,67.83 372.8,66.2 C374.88,64.57 376.47,63.18 378.9,59.9 C381.33,56.62 384.55,51.37 387.4,46.5 C390.25,41.63 393.03,36.62 396,30.7 C398.97,24.78 403.67,14.28 405.2,11" fill="none" stroke="#ee3333" stroke-width="1.4" stroke-linejoin="round" stroke-dasharray="2.4 2.2"/>
<path d="M270.5,142 C270.75,140.83 271.58,137.33 272,135 C272.42,132.67 272.5,129.35 273,128 C273.5,126.65 270.17,127.08 275,126.9 C279.83,126.72 296.92,127.13 302,126.9 C307.08,126.67 304.15,127.65 305.5,125.5 C306.85,123.35 308.78,119.52 310.1,114 C311.42,108.48 312.38,100.4 313.4,92.4 C314.42,84.4 315.43,71.4 316.2,66 C316.97,60.6 317.18,61.53 318,60 C318.82,58.47 319.42,58.37 321.1,56.8 C322.78,55.23 325.77,53.38 328.1,50.6 C330.43,47.82 332.77,44.18 335.1,40.1 C337.43,36.02 340.05,30.63 342.1,26.1 C344.15,21.57 346.37,15.42 347.4,12.9 C348.43,10.38 348.15,11.32 348.3,11" fill="none" stroke="#7fb9e2" stroke-width="1.3" stroke-linejoin="round" stroke-dasharray="2.4 2.2"/>
<path d="M269.8,142 C269.97,139.17 270.47,132 270.8,125 C271.13,118 271.33,105.67 271.8,100 C272.27,94.33 273.07,92.57 273.6,91 C274.13,89.43 270,90.67 275,90.6 C280,90.53 298.35,91.03 303.6,90.6 C308.85,90.17 305.63,89.43 306.5,88 C307.37,86.57 308.12,84.67 308.8,82 C309.48,79.33 310.02,75.03 310.6,72 C311.18,68.97 311.58,67.65 312.3,63.8 C313.02,59.95 314.03,53.28 314.9,48.9 C315.77,44.52 316.33,40.58 317.5,37.5 C318.67,34.42 320.43,32.6 321.9,30.4 C323.37,28.2 324.53,27.22 326.3,24.3 C328.07,21.38 331.32,15.12 332.5,12.9 C333.68,10.68 333.25,11.32 333.4,11" fill="none" stroke="#3264ac" stroke-width="1.4" stroke-linejoin="round" stroke-dasharray="2.4 2.2"/>
<text transform="translate(280.5,87.7) scale(1,1.16)" font-size="8.6" text-anchor="start" fill="#3b6eb4">3.91</text>
<text transform="translate(279.9,123.4) scale(1,1.16)" font-size="8.6" text-anchor="start" fill="#86c0e6">1.16</text>
<text transform="translate(327,127.8) scale(1,1.14)" font-size="8.9" text-anchor="start" fill="#ee2a2a" font-weight="bold">0.52</text>
<text transform="translate(335,135.8) scale(1,1.14)" font-size="8.8" text-anchor="start" fill="#f2a282">0.41</text>
<line x1="351.7" y1="91.1" x2="369.3" y2="91.1" stroke="#3264ac" stroke-width="1.2"/>
<line x1="351.7" y1="103.2" x2="369.3" y2="103.2" stroke="#7fb9e2" stroke-width="1.1"/>
<line x1="351.7" y1="114.2" x2="369.3" y2="114.2" stroke="#ee3333" stroke-width="1.3"/>
<line x1="351.7" y1="123.7" x2="369.3" y2="123.7" stroke="#f28a6a" stroke-width="1.0"/>
<text transform="translate(370.9,93.8) scale(1,1.1)" font-size="7.5" text-anchor="start" fill="#231f20" stroke="#231f20" stroke-width="0.1">Zn-H<tspan dy="1.8" font-size="5">2</tspan><tspan dy="-1.8">O</tspan></text>
<text transform="translate(370.9,105.9) scale(1,1.1)" font-size="7.5" text-anchor="start" fill="#231f20" stroke="#231f20" stroke-width="0.1">Zn-ClO<tspan dy="1.8" font-size="5">4</tspan><tspan dy="-5.5" font-size="5">-</tspan></text>
<text transform="translate(370.9,116.9) scale(1,1.1)" font-size="7.5" text-anchor="start" fill="#231f20" stroke="#231f20" stroke-width="0.1">Zn-O=S(Zw)</text>
<text transform="translate(370.9,126.4) scale(1,1.1)" font-size="7.5" text-anchor="start" fill="#231f20" stroke="#231f20" stroke-width="0.1">Zn-O(Maltose)</text>
<text transform="translate(258.7,20.4) scale(1,1.1)" font-size="8.25" text-anchor="start" fill="#231f20" stroke="#231f20" stroke-width="0.1">CZHE</text>
<text transform="translate(258.3,29.5) scale(1,1.1)" font-size="8.25" text-anchor="start" fill="#231f20" stroke="#231f20" stroke-width="0.1">-60 <tspan font-size="4.95" dy="-3.14" stroke="#231f20" stroke-width="0.1">o</tspan><tspan dy="3.14">C</tspan></text>
<rect x="256.0" y="11.2" width="1" height="1" fill="none"/>
<path d="M255.4,10.6H420.5M255.4,150.2H420.5" fill="none" stroke="#231f20" stroke-width="1.1" stroke-linecap="square"/>
<path d="M255.4,10.6V150.2M420.5,10.6V150.2" fill="none" stroke="#231f20" stroke-width="1.3" stroke-linecap="square"/>
<line x1="253" y1="143.6" x2="255.4" y2="143.6" stroke="#231f20" stroke-width="1.0"/>
<text transform="translate(250.8,146.1) scale(1,1.1)" font-size="8.9" text-anchor="end" fill="#231f20" stroke="#231f20" stroke-width="0.1">0</text>
<line x1="253" y1="110.4" x2="255.4" y2="110.4" stroke="#231f20" stroke-width="1.0"/>
<text transform="translate(250.8,112.9) scale(1,1.1)" font-size="8.9" text-anchor="end" fill="#231f20" stroke="#231f20" stroke-width="0.1">20</text>
<line x1="253" y1="77.2" x2="255.4" y2="77.2" stroke="#231f20" stroke-width="1.0"/>
<text transform="translate(250.8,79.7) scale(1,1.1)" font-size="8.9" text-anchor="end" fill="#231f20" stroke="#231f20" stroke-width="0.1">40</text>
<line x1="253" y1="44" x2="255.4" y2="44" stroke="#231f20" stroke-width="1.0"/>
<text transform="translate(250.8,46.5) scale(1,1.1)" font-size="8.9" text-anchor="end" fill="#231f20" stroke="#231f20" stroke-width="0.1">60</text>
<line x1="253" y1="10.8" x2="255.4" y2="10.8" stroke="#231f20" stroke-width="1.0"/>
<text transform="translate(250.8,13.3) scale(1,1.1)" font-size="8.9" text-anchor="end" fill="#231f20" stroke="#231f20" stroke-width="0.1">80</text>
<line x1="254" y1="127" x2="255.4" y2="127" stroke="#231f20" stroke-width="1.0"/>
<line x1="254" y1="93.8" x2="255.4" y2="93.8" stroke="#231f20" stroke-width="1.0"/>
<line x1="254" y1="60.6" x2="255.4" y2="60.6" stroke="#231f20" stroke-width="1.0"/>
<line x1="254" y1="27.4" x2="255.4" y2="27.4" stroke="#231f20" stroke-width="1.0"/>
<line x1="273.65" y1="150.2" x2="273.65" y2="152.6" stroke="#231f20" stroke-width="1.2"/>
<text transform="translate(273.65,163.9) scale(1,1.1)" font-size="10.7" text-anchor="middle" fill="#231f20" stroke="#231f20" stroke-width="0.1">2</text>
<line x1="310.35" y1="150.2" x2="310.35" y2="152.6" stroke="#231f20" stroke-width="1.2"/>
<text transform="translate(310.35,163.9) scale(1,1.1)" font-size="10.7" text-anchor="middle" fill="#231f20" stroke="#231f20" stroke-width="0.1">4</text>
<line x1="347.05" y1="150.2" x2="347.05" y2="152.6" stroke="#231f20" stroke-width="1.2"/>
<text transform="translate(347.05,163.9) scale(1,1.1)" font-size="10.7" text-anchor="middle" fill="#231f20" stroke="#231f20" stroke-width="0.1">6</text>
<line x1="383.75" y1="150.2" x2="383.75" y2="152.6" stroke="#231f20" stroke-width="1.2"/>
<text transform="translate(383.75,163.9) scale(1,1.1)" font-size="10.7" text-anchor="middle" fill="#231f20" stroke="#231f20" stroke-width="0.1">8</text>
<line x1="420.45" y1="150.2" x2="420.45" y2="152.6" stroke="#231f20" stroke-width="1.2"/>
<text transform="translate(420.45,163.9) scale(1,1.1)" font-size="10.7" text-anchor="middle" fill="#231f20" stroke="#231f20" stroke-width="0.1">10</text>
<line x1="292" y1="150.2" x2="292" y2="151.6" stroke="#231f20" stroke-width="1.2"/>
<line x1="328.7" y1="150.2" x2="328.7" y2="151.6" stroke="#231f20" stroke-width="1.2"/>
<line x1="365.4" y1="150.2" x2="365.4" y2="151.6" stroke="#231f20" stroke-width="1.2"/>
<line x1="402.1" y1="150.2" x2="402.1" y2="151.6" stroke="#231f20" stroke-width="1.2"/>
<line x1="420.5" y1="142.5" x2="422.9" y2="142.5" stroke="#231f20" stroke-width="1.0"/>
<text transform="translate(425.5,145) scale(1,1.1)" font-size="8.5" text-anchor="start" fill="#231f20" stroke="#231f20" stroke-width="0.1">0</text>
<line x1="420.5" y1="116.1" x2="422.9" y2="116.1" stroke="#231f20" stroke-width="1.0"/>
<text transform="translate(425.5,118.6) scale(1,1.1)" font-size="8.5" text-anchor="start" fill="#231f20" stroke="#231f20" stroke-width="0.1">2</text>
<line x1="420.5" y1="89.7" x2="422.9" y2="89.7" stroke="#231f20" stroke-width="1.0"/>
<text transform="translate(425.5,92.2) scale(1,1.1)" font-size="8.5" text-anchor="start" fill="#231f20" stroke="#231f20" stroke-width="0.1">4</text>
<line x1="420.5" y1="63.3" x2="422.9" y2="63.3" stroke="#231f20" stroke-width="1.0"/>
<text transform="translate(425.5,65.8) scale(1,1.1)" font-size="8.5" text-anchor="start" fill="#231f20" stroke="#231f20" stroke-width="0.1">6</text>
<line x1="420.5" y1="36.9" x2="422.9" y2="36.9" stroke="#231f20" stroke-width="1.0"/>
<text transform="translate(425.5,39.4) scale(1,1.1)" font-size="8.5" text-anchor="start" fill="#231f20" stroke="#231f20" stroke-width="0.1">8</text>
<line x1="420.5" y1="10.5" x2="422.9" y2="10.5" stroke="#231f20" stroke-width="1.0"/>
<text transform="translate(425.5,13) scale(1,1.1)" font-size="8.5" text-anchor="start" fill="#231f20" stroke="#231f20" stroke-width="0.1">10</text>
<line x1="420.5" y1="129.3" x2="421.9" y2="129.3" stroke="#231f20" stroke-width="1.0"/>
<line x1="420.5" y1="102.9" x2="421.9" y2="102.9" stroke="#231f20" stroke-width="1.0"/>
<line x1="420.5" y1="76.5" x2="421.9" y2="76.5" stroke="#231f20" stroke-width="1.0"/>
<line x1="420.5" y1="50.1" x2="421.9" y2="50.1" stroke="#231f20" stroke-width="1.0"/>
<line x1="420.5" y1="23.7" x2="421.9" y2="23.7" stroke="#231f20" stroke-width="1.0"/>
<text transform="translate(338.2,182.2) scale(1,1.1)" font-size="11.8" text-anchor="middle" fill="#231f20" stroke="#231f20" stroke-width="0.1">r (Å)</text>
<text transform="translate(236.2,80.3) rotate(-90) scale(1,1.06)" font-size="11.3" text-anchor="middle" fill="#231f20" stroke="#231f20" stroke-width="0.1">g (r)</text>
<text transform="translate(447.2,80.7) rotate(-90) scale(1,1.06)" font-size="11.3" text-anchor="middle" fill="#231f20" stroke="#231f20" stroke-width="0.1">Coordination number</text>
<rect x="484.2" y="41.42" width="16.8" height="108.78" fill="#cd3450" stroke="#231f20" stroke-width="0.9"/>
<text transform="translate(492.6,39.82) scale(1,1.1)" font-size="7.0" text-anchor="middle" fill="#d0405c">3.91</text>
<rect x="501" y="31.13" width="17.2" height="119.07" fill="#4e82bc" stroke="#231f20" stroke-width="0.9"/>
<text transform="translate(509.6,29.53) scale(1,1.1)" font-size="7.0" text-anchor="middle" fill="#4a86c4">4.28</text>
<rect x="527.4" y="117.93" width="16.8" height="32.27" fill="#cd3450" stroke="#231f20" stroke-width="0.9"/>
<text transform="translate(535.8,116.33) scale(1,1.1)" font-size="7.0" text-anchor="middle" fill="#d0405c">1.16</text>
<rect x="544.2" y="114.59" width="17.2" height="35.61" fill="#4e82bc" stroke="#231f20" stroke-width="0.9"/>
<text transform="translate(552.8,112.99) scale(1,1.1)" font-size="7.0" text-anchor="middle" fill="#4a86c4">1.28</text>
<rect x="569.7" y="138.79" width="16.8" height="11.41" fill="#cd3450" stroke="#231f20" stroke-width="0.9"/>
<text transform="translate(578.1,137.19) scale(1,1.1)" font-size="7.0" text-anchor="middle" fill="#d0405c">0.41</text>
<rect x="586.5" y="137.96" width="17.2" height="12.24" fill="#4e82bc" stroke="#231f20" stroke-width="0.9"/>
<text transform="translate(595.1,136.36) scale(1,1.1)" font-size="7.0" text-anchor="middle" fill="#4a86c4">0.44</text>
<rect x="612.6" y="135.73" width="16.8" height="14.47" fill="#cd3450" stroke="#231f20" stroke-width="0.9"/>
<text transform="translate(621,134.13) scale(1,1.1)" font-size="7.0" text-anchor="middle" fill="#d0405c">0.52</text>
<path d="M480.6,11.2H650.6M480.6,150.2H650.6" fill="none" stroke="#231f20" stroke-width="1.1" stroke-linecap="square"/>
<path d="M480.6,11.2V150.2M650.6,11.2V150.2" fill="none" stroke="#231f20" stroke-width="1.3" stroke-linecap="square"/>
<line x1="478.2" y1="150.2" x2="480.6" y2="150.2" stroke="#231f20" stroke-width="1.0"/>
<text transform="translate(475.9,153) scale(1,1.1)" font-size="8.2" text-anchor="end" fill="#231f20" stroke="#231f20" stroke-width="0.1">0</text>
<line x1="478.2" y1="122.38" x2="480.6" y2="122.38" stroke="#231f20" stroke-width="1.0"/>
<text transform="translate(475.9,125.18) scale(1,1.1)" font-size="8.2" text-anchor="end" fill="#231f20" stroke="#231f20" stroke-width="0.1">1</text>
<line x1="478.2" y1="94.56" x2="480.6" y2="94.56" stroke="#231f20" stroke-width="1.0"/>
<text transform="translate(475.9,97.36) scale(1,1.1)" font-size="8.2" text-anchor="end" fill="#231f20" stroke="#231f20" stroke-width="0.1">2</text>
<line x1="478.2" y1="66.74" x2="480.6" y2="66.74" stroke="#231f20" stroke-width="1.0"/>
<text transform="translate(475.9,69.54) scale(1,1.1)" font-size="8.2" text-anchor="end" fill="#231f20" stroke="#231f20" stroke-width="0.1">3</text>
<line x1="478.2" y1="38.92" x2="480.6" y2="38.92" stroke="#231f20" stroke-width="1.0"/>
<text transform="translate(475.9,41.72) scale(1,1.1)" font-size="8.2" text-anchor="end" fill="#231f20" stroke="#231f20" stroke-width="0.1">4</text>
<line x1="478.2" y1="11.1" x2="480.6" y2="11.1" stroke="#231f20" stroke-width="1.0"/>
<text transform="translate(475.9,13.9) scale(1,1.1)" font-size="8.2" text-anchor="end" fill="#231f20" stroke="#231f20" stroke-width="0.1">5</text>
<line x1="479.2" y1="136.29" x2="480.6" y2="136.29" stroke="#231f20" stroke-width="1.0"/>
<line x1="479.2" y1="108.47" x2="480.6" y2="108.47" stroke="#231f20" stroke-width="1.0"/>
<line x1="479.2" y1="80.65" x2="480.6" y2="80.65" stroke="#231f20" stroke-width="1.0"/>
<line x1="479.2" y1="52.83" x2="480.6" y2="52.83" stroke="#231f20" stroke-width="1.0"/>
<line x1="479.2" y1="25.01" x2="480.6" y2="25.01" stroke="#231f20" stroke-width="1.0"/>
<line x1="501" y1="150.2" x2="501" y2="152.6" stroke="#231f20" stroke-width="1.2"/>
<line x1="544.2" y1="150.2" x2="544.2" y2="152.6" stroke="#231f20" stroke-width="1.2"/>
<line x1="586.5" y1="150.2" x2="586.5" y2="152.6" stroke="#231f20" stroke-width="1.2"/>
<line x1="629.4" y1="150.2" x2="629.4" y2="152.6" stroke="#231f20" stroke-width="1.2"/>
<line x1="522.6" y1="150.2" x2="522.6" y2="151.6" stroke="#231f20" stroke-width="1.2"/>
<line x1="565.3" y1="150.2" x2="565.3" y2="151.6" stroke="#231f20" stroke-width="1.2"/>
<line x1="608" y1="150.2" x2="608" y2="151.6" stroke="#231f20" stroke-width="1.2"/>
<text transform="translate(501.4,170.8) scale(1,1.1)" font-size="7.1" text-anchor="middle" fill="#2e4e92" stroke="#2e4e92" stroke-width="0.18">Zn-H<tspan dy="1.6" font-size="4.8">2</tspan><tspan dy="-1.6">O</tspan></text>
<text transform="translate(544.2,170.8) scale(1,1.1)" font-size="7" text-anchor="middle" fill="#86bee6">Zn-ClO<tspan dy="1.6" font-size="4.8">4</tspan><tspan dy="-4.8" font-size="4.8">-</tspan></text>
<text transform="translate(588.1,170.8) scale(1,1.1)" font-size="6.9" text-anchor="middle" fill="#f2927a">Zn-O(Maltose)</text>
<text transform="translate(630.1,170.8) scale(1,1.1)" font-size="6.9" text-anchor="middle" fill="#e8283a" font-weight="bold">Zn-O(Zw)</text>
<rect x="601.3" y="14.3" width="19.5" height="9.3" fill="#cd3450" stroke="#231f20" stroke-width="0.9"/>
<rect x="601.3" y="24.6" width="19.5" height="9.6" fill="#4e82bc" stroke="#231f20" stroke-width="0.9"/>
<text transform="translate(623.2,21.9) scale(1,1.1)" font-size="8.7" text-anchor="start" fill="#231f20" stroke="#231f20" stroke-width="0.1">CZHE</text>
<text transform="translate(623.2,33) scale(1,1.1)" font-size="8.7" text-anchor="start" fill="#231f20" stroke="#231f20" stroke-width="0.1">LE</text>
<text transform="translate(601,48.7) scale(1,1.1)" font-size="9" text-anchor="start" fill="#231f20" stroke="#231f20" stroke-width="0.1">- 60 <tspan font-size="5.4" dy="-3.42" stroke="#231f20" stroke-width="0.11">o</tspan><tspan dy="3.42">C</tspan></text>
<text transform="translate(467.8,80.8) rotate(-90) scale(1,1.06)" font-size="11.3" text-anchor="middle" fill="#231f20" stroke="#231f20" stroke-width="0.1">Coordination number</text>
<polyline points="40.93,306.3 41.01,304.25 41.19,301.34 41.43,298.65 41.73,296.31 42.07,294.27 42.46,292.48 42.89,290.89 43.36,289.44 43.86,288.11 44.4,286.88 44.97,285.72 45.58,284.62 46.22,283.57 46.88,282.55 47.58,281.57 48.3,280.61 49.05,279.68 49.83,278.75 50.63,277.84 51.46,276.94 52.32,276.04 53.2,275.15 54.11,274.26 55.03,273.37 55.99,272.47 56.96,271.58 57.96,270.68 58.98,269.78 60.02,268.87 61.09,267.96 62.17,267.04 63.28,266.12 64.41,265.19 65.56,264.26 66.73,263.32 67.92,262.37 69.13,261.41 70.36,260.45 71.6,259.49 72.87,258.52 74.16,257.54 75.47,256.55 76.79,255.56 78.14,254.57 79.5,253.57 80.88,252.56 82.28,251.55 83.69,250.53 85.13,249.51 86.58,248.49 88.05,247.47 89.54,246.44 91.04,245.4 92.56,244.37 94.1,243.33 95.66,242.29 97.23,241.25 98.82,240.21 100.42,239.17 102.04,238.13 103.68,237.09 105.34,236.05 107.01,235.01 108.69,233.97 110.4,232.94 112.11,231.9 113.85,230.87 115.6,229.84 117.36,228.82 119.14,227.8 120.94,226.79 122.75,225.78 124.57,224.77 126.41,223.78 128.27,222.79 130.14,221.8 132.03,220.82 133.93,219.86 135.84,218.89 137.77,217.94 139.71,217 141.67,216.07 143.65,215.15 145.63,214.23 147.64,213.33 149.65,212.45 151.68,211.57 153.72,210.71 155.78,209.85 157.85,209.02" fill="none" stroke="#d93434" stroke-width="1.4" stroke-linejoin="round"/>
<polyline points="40.98,253.28 41.07,253.63 41.26,254.25 41.52,254.95 41.83,255.68 42.19,256.43 42.6,257.18 43.05,257.92 43.54,258.67 44.07,259.4 44.64,260.14 45.24,260.86 45.88,261.59 46.55,262.31 47.25,263.02 47.98,263.73 48.74,264.44 49.54,265.15 50.35,265.86 51.2,266.56 52.08,267.26 52.98,267.96 53.9,268.66 54.86,269.36 55.83,270.06 56.84,270.76 57.86,271.46 58.91,272.16 59.99,272.86 61.08,273.56 62.21,274.26 63.35,274.97 64.51,275.68 65.7,276.39 66.91,277.1 68.14,277.81 69.39,278.53 70.67,279.25 71.96,279.98 73.28,280.7 74.61,281.43 75.97,282.17 77.34,282.91 78.74,283.65 80.15,284.4 81.58,285.16 83.04,285.91 84.51,286.68 86,287.45 87.51,288.22 89.04,289 90.59,289.79 92.15,290.58 93.74,291.38 95.34,292.19 96.96,293 98.59,293.82 100.25,294.65 101.92,295.48 103.61,296.32 105.32,297.17 107.04,298.03 108.78,298.9 110.54,299.77 112.32,300.66 114.11,301.55 115.92,302.45 117.74,303.36 119.58,304.28 121.44,305.21 123.31,306.15 125.2,307.1 127.11,308.06 129.03,309.03 130.97,310.01 132.92,311.01 134.89,312.01 136.88,313.02 138.88,314.05 140.89,315.08 142.92,316.13 144.97,317.19 147.03,318.27 149.11,319.35 151.2,320.45 153.31,321.56 155.43,322.68 157.57,323.82 159.72,324.97 161.88,326.13 164.07,327.31" fill="none" stroke="#d93434" stroke-width="1.4" stroke-linejoin="round"/>
<polyline points="41.04,253.91 41.07,253.86 41.13,253.74 41.21,253.56 41.31,253.33 41.42,253.05 41.55,252.73 41.7,252.36 41.85,251.97 42.02,251.55 42.2,251.1 42.4,250.64 42.6,250.16 42.81,249.66 43.03,249.15 43.27,248.63 43.51,248.1 43.76,247.57 44.02,247.02 44.29,246.47 44.57,245.91 44.86,245.35 45.15,244.78 45.46,244.21 45.77,243.64 46.09,243.06 46.41,242.48 46.75,241.9 47.09,241.32 47.44,240.73 47.8,240.15 48.16,239.56 48.53,238.98 48.91,238.39 49.29,237.8 49.68,237.22 50.08,236.63 50.49,236.04 50.9,235.46 51.32,234.87 51.74,234.29 52.18,233.7 52.61,233.12 53.06,232.54 53.51,231.96 53.96,231.38 54.43,230.81 54.9,230.23 55.37,229.66 55.85,229.09 56.34,228.52 56.83,227.95 57.33,227.39 57.83,226.82 58.34,226.26 58.86,225.71 59.38,225.15 59.91,224.6 60.44,224.05 60.98,223.5 61.52,222.96 62.07,222.41 62.62,221.88 63.18,221.34 63.75,220.81 64.32,220.28 64.89,219.76 65.47,219.23 66.06,218.71 66.65,218.2 67.25,217.69 67.85,217.18 68.46,216.68 69.07,216.18 69.69,215.68 70.31,215.19 70.93,214.7 71.57,214.22 72.2,213.74 72.85,213.26 73.49,212.79 74.14,212.32 74.8,211.86 75.46,211.4 76.13,210.95 76.8,210.5 77.47,210.06 78.15,209.62 78.84,209.18 79.53,208.76 80.22,208.33" fill="none" stroke="#3f86b8" stroke-width="1.4" stroke-linejoin="round"/>
<polyline points="40.93,280.98 40.95,281.15 41.01,281.48 41.08,281.92 41.18,282.46 41.28,283.06 41.4,283.7 41.54,284.38 41.68,285.07 41.84,285.78 42.01,286.5 42.18,287.22 42.37,287.94 42.57,288.66 42.78,289.37 42.99,290.08 43.22,290.78 43.45,291.47 43.69,292.15 43.94,292.82 44.2,293.49 44.47,294.14 44.74,294.78 45.02,295.42 45.31,296.04 45.61,296.65 45.91,297.26 46.22,297.85 46.54,298.44 46.86,299.01 47.19,299.58 47.53,300.13 47.87,300.68 48.22,301.22 48.58,301.75 48.94,302.27 49.31,302.79 49.69,303.29 50.07,303.79 50.46,304.29 50.85,304.77 51.25,305.25 51.66,305.72 52.07,306.19 52.49,306.65 52.91,307.1 53.34,307.56 53.77,308 54.21,308.44 54.66,308.88 55.11,309.31 55.57,309.74 56.03,310.17 56.5,310.59 56.97,311.01 57.45,311.42 57.93,311.84 58.42,312.25 58.91,312.66 59.41,313.07 59.92,313.48 60.43,313.89 60.94,314.3 61.46,314.7 61.98,315.11 62.51,315.52 63.05,315.93 63.58,316.34 64.13,316.75 64.68,317.16 65.23,317.58 65.79,317.99 66.35,318.41 66.92,318.83 67.49,319.26 68.07,319.69 68.65,320.12 69.23,320.55 69.82,320.99 70.42,321.44 71.02,321.88 71.62,322.34 72.23,322.8 72.84,323.26 73.46,323.73 74.08,324.21 74.71,324.69 75.34,325.18 75.97,325.68 76.61,326.19 77.26,326.7" fill="none" stroke="#3f86b8" stroke-width="1.4" stroke-linejoin="round"/>
<path d="M40.8,197.8H210.1M40.8,337.3H210.1" fill="none" stroke="#231f20" stroke-width="1.1" stroke-linecap="square"/>
<path d="M40.8,197.8V337.3M210.1,197.8V337.3" fill="none" stroke="#231f20" stroke-width="1.3" stroke-linecap="square"/>
<line x1="38.4" y1="337.2" x2="40.8" y2="337.2" stroke="#231f20" stroke-width="1.0"/>
<text transform="translate(36.1,340.2) scale(1,1.1)" font-size="9.0" text-anchor="end" fill="#231f20" stroke="#231f20" stroke-width="0.1">0.4</text>
<line x1="38.4" y1="315.76" x2="40.8" y2="315.76" stroke="#231f20" stroke-width="1.0"/>
<text transform="translate(36.1,318.76) scale(1,1.1)" font-size="9.0" text-anchor="end" fill="#231f20" stroke="#231f20" stroke-width="0.1">0.6</text>
<line x1="38.4" y1="294.32" x2="40.8" y2="294.32" stroke="#231f20" stroke-width="1.0"/>
<text transform="translate(36.1,297.32) scale(1,1.1)" font-size="9.0" text-anchor="end" fill="#231f20" stroke="#231f20" stroke-width="0.1">0.8</text>
<line x1="38.4" y1="272.88" x2="40.8" y2="272.88" stroke="#231f20" stroke-width="1.0"/>
<text transform="translate(36.1,275.88) scale(1,1.1)" font-size="9.0" text-anchor="end" fill="#231f20" stroke="#231f20" stroke-width="0.1">1.0</text>
<line x1="38.4" y1="251.44" x2="40.8" y2="251.44" stroke="#231f20" stroke-width="1.0"/>
<text transform="translate(36.1,254.44) scale(1,1.1)" font-size="9.0" text-anchor="end" fill="#231f20" stroke="#231f20" stroke-width="0.1">1.2</text>
<line x1="38.4" y1="230" x2="40.8" y2="230" stroke="#231f20" stroke-width="1.0"/>
<text transform="translate(36.1,233) scale(1,1.1)" font-size="9.0" text-anchor="end" fill="#231f20" stroke="#231f20" stroke-width="0.1">1.4</text>
<line x1="38.4" y1="208.56" x2="40.8" y2="208.56" stroke="#231f20" stroke-width="1.0"/>
<text transform="translate(36.1,211.56) scale(1,1.1)" font-size="9.0" text-anchor="end" fill="#231f20" stroke="#231f20" stroke-width="0.1">1.6</text>
<line x1="39.4" y1="326.48" x2="40.8" y2="326.48" stroke="#231f20" stroke-width="1.0"/>
<line x1="39.4" y1="305.04" x2="40.8" y2="305.04" stroke="#231f20" stroke-width="1.0"/>
<line x1="39.4" y1="283.6" x2="40.8" y2="283.6" stroke="#231f20" stroke-width="1.0"/>
<line x1="39.4" y1="262.16" x2="40.8" y2="262.16" stroke="#231f20" stroke-width="1.0"/>
<line x1="39.4" y1="240.72" x2="40.8" y2="240.72" stroke="#231f20" stroke-width="1.0"/>
<line x1="39.4" y1="219.28" x2="40.8" y2="219.28" stroke="#231f20" stroke-width="1.0"/>
<line x1="40.7" y1="337.3" x2="40.7" y2="339.7" stroke="#231f20" stroke-width="1.2"/>
<text transform="translate(40.7,348.6) scale(1,1.1)" font-size="8.8" text-anchor="middle" fill="#231f20" stroke="#231f20" stroke-width="0.1">0</text>
<line x1="68.93" y1="337.3" x2="68.93" y2="339.7" stroke="#231f20" stroke-width="1.2"/>
<text transform="translate(68.93,348.6) scale(1,1.1)" font-size="8.8" text-anchor="middle" fill="#231f20" stroke="#231f20" stroke-width="0.1">10</text>
<line x1="97.16" y1="337.3" x2="97.16" y2="339.7" stroke="#231f20" stroke-width="1.2"/>
<text transform="translate(97.16,348.6) scale(1,1.1)" font-size="8.8" text-anchor="middle" fill="#231f20" stroke="#231f20" stroke-width="0.1">20</text>
<line x1="125.39" y1="337.3" x2="125.39" y2="339.7" stroke="#231f20" stroke-width="1.2"/>
<text transform="translate(125.39,348.6) scale(1,1.1)" font-size="8.8" text-anchor="middle" fill="#231f20" stroke="#231f20" stroke-width="0.1">30</text>
<line x1="153.62" y1="337.3" x2="153.62" y2="339.7" stroke="#231f20" stroke-width="1.2"/>
<text transform="translate(153.62,348.6) scale(1,1.1)" font-size="8.8" text-anchor="middle" fill="#231f20" stroke="#231f20" stroke-width="0.1">40</text>
<line x1="181.85" y1="337.3" x2="181.85" y2="339.7" stroke="#231f20" stroke-width="1.2"/>
<text transform="translate(181.85,348.6) scale(1,1.1)" font-size="8.8" text-anchor="middle" fill="#231f20" stroke="#231f20" stroke-width="0.1">50</text>
<line x1="210.08" y1="337.3" x2="210.08" y2="339.7" stroke="#231f20" stroke-width="1.2"/>
<text transform="translate(210.08,348.6) scale(1,1.1)" font-size="8.8" text-anchor="middle" fill="#231f20" stroke="#231f20" stroke-width="0.1">60</text>
<line x1="54.82" y1="337.3" x2="54.82" y2="338.7" stroke="#231f20" stroke-width="1.2"/>
<line x1="83.05" y1="337.3" x2="83.05" y2="338.7" stroke="#231f20" stroke-width="1.2"/>
<line x1="111.28" y1="337.3" x2="111.28" y2="338.7" stroke="#231f20" stroke-width="1.2"/>
<line x1="139.5" y1="337.3" x2="139.5" y2="338.7" stroke="#231f20" stroke-width="1.2"/>
<line x1="167.74" y1="337.3" x2="167.74" y2="338.7" stroke="#231f20" stroke-width="1.2"/>
<line x1="195.96" y1="337.3" x2="195.96" y2="338.7" stroke="#231f20" stroke-width="1.2"/>
<line x1="139.7" y1="264.2" x2="159.9" y2="264.2" stroke="#d93434" stroke-width="1.4"/>
<line x1="139.7" y1="275" x2="159.9" y2="275" stroke="#3f86b8" stroke-width="1.4"/>
<text transform="translate(162.2,267.3) scale(1,1.1)" font-size="8.9" text-anchor="start" fill="#231f20" stroke="#231f20" stroke-width="0.1">CZHE</text>
<text transform="translate(162.2,278.1) scale(1,1.1)" font-size="8.9" text-anchor="start" fill="#231f20" stroke="#231f20" stroke-width="0.1">LE</text>
<text transform="translate(166.9,209.6) scale(1,1.1)" font-size="8.5" text-anchor="start" fill="#231f20" stroke="#231f20" stroke-width="0.1">100 mA g<tspan dy="-3.4" font-size="5.6">-1</tspan></text>
<text transform="translate(170.2,332.1) scale(1,1.1)" font-size="11.2" text-anchor="start" fill="#231f20" stroke="#231f20" stroke-width="0.1">- 60 <tspan font-size="6.72" dy="-4.26" stroke="#231f20" stroke-width="0.13">o</tspan><tspan dy="4.26">C</tspan></text>
<text transform="translate(125.3,366.7) scale(1,1.1)" font-size="11.3" text-anchor="middle" fill="#231f20" stroke="#231f20" stroke-width="0.1">Capacity (mAh g<tspan dy="-4.2" font-size="7.2">-1</tspan><tspan dy="4.2">)</tspan></text>
<text transform="translate(21.2,267.5) rotate(-90) scale(1,1.06)" font-size="11.3" text-anchor="middle" fill="#231f20" stroke="#231f20" stroke-width="0.1">Voltage (V)</text>
<defs>
<linearGradient id="eg0" x1="0" y1="0" x2="1" y2="0"><stop offset="0" stop-color="#f9fbfc"/><stop offset="1" stop-color="#f6f8fb"/></linearGradient>
<linearGradient id="eg1" x1="0" y1="0" x2="1" y2="0"><stop offset="0" stop-color="#f4f7fa"/><stop offset="1" stop-color="#eff3f8"/></linearGradient>
<linearGradient id="eg2" x1="0" y1="0" x2="1" y2="0"><stop offset="0" stop-color="#ecf0f6"/><stop offset="1" stop-color="#e4eaf3"/></linearGradient>
<linearGradient id="eg3" x1="0" y1="0" x2="1" y2="0"><stop offset="0" stop-color="#e0e7f1"/><stop offset="1" stop-color="#d7e0ed"/></linearGradient>
<linearGradient id="eg4" x1="0" y1="0" x2="1" y2="0"><stop offset="0" stop-color="#d2ddec"/><stop offset="1" stop-color="#bccfe7"/></linearGradient>
<radialGradient id="mR" cx="0.5" cy="0.5" r="0.55" fx="0.4" fy="0.36"><stop offset="0" stop-color="#ffffff"/><stop offset="0.18" stop-color="#f4a0b2"/><stop offset="0.5" stop-color="#d42a4a"/><stop offset="1" stop-color="#b01c3c"/></radialGradient>
<radialGradient id="mP" cx="0.5" cy="0.5" r="0.55" fx="0.4" fy="0.36"><stop offset="0" stop-color="#ffffff"/><stop offset="0.18" stop-color="#fde4da"/><stop offset="0.5" stop-color="#f6bca8"/><stop offset="1" stop-color="#eca08a"/></radialGradient>
<radialGradient id="mO" cx="0.5" cy="0.5" r="0.55" fx="0.4" fy="0.36"><stop offset="0" stop-color="#ffffff"/><stop offset="0.18" stop-color="#f9b8a4"/><stop offset="0.5" stop-color="#ee6244"/><stop offset="1" stop-color="#d44a2c"/></radialGradient>
<radialGradient id="mB" cx="0.5" cy="0.5" r="0.55" fx="0.4" fy="0.36"><stop offset="0" stop-color="#ffffff"/><stop offset="0.18" stop-color="#a8c8ec"/><stop offset="0.5" stop-color="#3c72b6"/><stop offset="1" stop-color="#2a5898"/></radialGradient>
</defs>
<rect x="255.4" y="199.5" width="35.82" height="139" fill="url(#eg0)"/>
<rect x="291.17" y="199.5" width="32.75" height="139" fill="url(#eg1)"/>
<rect x="323.87" y="199.5" width="32.75" height="139" fill="url(#eg2)"/>
<rect x="356.57" y="199.5" width="32.75" height="139" fill="url(#eg3)"/>
<rect x="389.27" y="199.5" width="36.38" height="139" fill="url(#eg4)"/>
<line x1="291.17" y1="200.1" x2="291.17" y2="337.9" stroke="#a4acb6" stroke-width="0.8" stroke-dasharray="1.5 1.75"/>
<line x1="323.87" y1="200.1" x2="323.87" y2="337.9" stroke="#a4acb6" stroke-width="0.8" stroke-dasharray="1.5 1.75"/>
<line x1="356.57" y1="200.1" x2="356.57" y2="337.9" stroke="#a4acb6" stroke-width="0.8" stroke-dasharray="1.5 1.75"/>
<line x1="389.27" y1="200.1" x2="389.27" y2="337.9" stroke="#a4acb6" stroke-width="0.8" stroke-dasharray="1.5 1.75"/>
<polyline points="261.74,270.11 268.28,269.91 274.82,269.98 281.36,270.11 287.9,270.65 294.44,299.13 300.98,298.99 307.52,298.99 314.06,299.06 320.6,299.06 327.14,335 333.68,335 340.22,335 346.76,335 353.3,335 359.84,335 366.38,335 372.92,335 379.46,335 386,335 392.54,335 399.08,335 405.62,335 412.16,335 418.7,335" fill="none" stroke="#f4bba2" stroke-width="1.0" stroke-linejoin="round"/>
<polyline points="261.74,308.96 268.28,309.44 274.82,309.71 281.36,310.05 287.9,310.66 294.44,322.86 300.98,322.86 307.52,322.79 314.06,322.86 320.6,322.86 327.14,335.06 333.68,335.06 340.22,335.06 346.76,335.06 353.3,335.06 359.84,335.06 366.38,335.06 372.92,335.06 379.46,335.06 386,335.06 392.54,335.06 399.08,335.06 405.62,335.06 412.16,335.06 418.7,335.06" fill="none" stroke="#ec5e40" stroke-width="1.0" stroke-linejoin="round"/>
<polyline points="261.74,235.26 268.28,235.26 274.82,235.19 281.36,235.19 287.9,235.19 294.44,256.55 300.98,256.62 307.52,256.62 314.06,256.62 320.6,256.62 327.14,293.3 333.68,293.3 340.22,293.3 346.76,293.3 353.3,293.3 359.84,306.86 366.38,308.35 372.92,307.81 379.46,306.32 386,305.57 392.54,325.23 399.08,325.23 405.62,325.23 412.16,325.23 418.7,325.23" fill="none" stroke="#3a6db0" stroke-width="1.0" stroke-linejoin="round"/>
<polyline points="261.74,230.58 268.28,230.11 274.82,229.7 281.36,229.3 287.9,228.75 294.44,250.99 300.98,250.86 307.52,250.79 314.06,250.79 320.6,250.72 327.14,278.93 333.68,279.2 340.22,279.6 346.76,280.28 353.3,280.96 359.84,287.47 366.38,287.54 372.92,287.54 379.46,287.54 386,287.54 392.54,305.16 399.08,305.16 405.62,305.16 412.16,305.16 418.7,305.1" fill="none" stroke="#cc2445" stroke-width="1.0" stroke-linejoin="round"/>
<circle cx="261.74" cy="270.11" r="2.7" fill="url(#mP)" stroke="#e8a488" stroke-width="0.4"/>
<circle cx="268.28" cy="269.91" r="2.7" fill="url(#mP)" stroke="#e8a488" stroke-width="0.4"/>
<circle cx="274.82" cy="269.98" r="2.7" fill="url(#mP)" stroke="#e8a488" stroke-width="0.4"/>
<circle cx="281.36" cy="270.11" r="2.7" fill="url(#mP)" stroke="#e8a488" stroke-width="0.4"/>
<circle cx="287.9" cy="270.65" r="2.7" fill="url(#mP)" stroke="#e8a488" stroke-width="0.4"/>
<circle cx="294.44" cy="299.13" r="2.7" fill="url(#mP)" stroke="#e8a488" stroke-width="0.4"/>
<circle cx="300.98" cy="298.99" r="2.7" fill="url(#mP)" stroke="#e8a488" stroke-width="0.4"/>
<circle cx="307.52" cy="298.99" r="2.7" fill="url(#mP)" stroke="#e8a488" stroke-width="0.4"/>
<circle cx="314.06" cy="299.06" r="2.7" fill="url(#mP)" stroke="#e8a488" stroke-width="0.4"/>
<circle cx="320.6" cy="299.06" r="2.7" fill="url(#mP)" stroke="#e8a488" stroke-width="0.4"/>
<circle cx="327.14" cy="335" r="2.7" fill="url(#mP)" stroke="#e8a488" stroke-width="0.4"/>
<circle cx="333.68" cy="335" r="2.7" fill="url(#mP)" stroke="#e8a488" stroke-width="0.4"/>
<circle cx="340.22" cy="335" r="2.7" fill="url(#mP)" stroke="#e8a488" stroke-width="0.4"/>
<circle cx="346.76" cy="335" r="2.7" fill="url(#mP)" stroke="#e8a488" stroke-width="0.4"/>
<circle cx="353.3" cy="335" r="2.7" fill="url(#mP)" stroke="#e8a488" stroke-width="0.4"/>
<circle cx="359.84" cy="335" r="2.7" fill="url(#mP)" stroke="#e8a488" stroke-width="0.4"/>
<circle cx="366.38" cy="335" r="2.7" fill="url(#mP)" stroke="#e8a488" stroke-width="0.4"/>
<circle cx="372.92" cy="335" r="2.7" fill="url(#mP)" stroke="#e8a488" stroke-width="0.4"/>
<circle cx="379.46" cy="335" r="2.7" fill="url(#mP)" stroke="#e8a488" stroke-width="0.4"/>
<circle cx="386" cy="335" r="2.7" fill="url(#mP)" stroke="#e8a488" stroke-width="0.4"/>
<circle cx="392.54" cy="335" r="2.7" fill="url(#mP)" stroke="#e8a488" stroke-width="0.4"/>
<circle cx="399.08" cy="335" r="2.7" fill="url(#mP)" stroke="#e8a488" stroke-width="0.4"/>
<circle cx="405.62" cy="335" r="2.7" fill="url(#mP)" stroke="#e8a488" stroke-width="0.4"/>
<circle cx="412.16" cy="335" r="2.7" fill="url(#mP)" stroke="#e8a488" stroke-width="0.4"/>
<circle cx="418.7" cy="335" r="2.7" fill="url(#mP)" stroke="#e8a488" stroke-width="0.4"/>
<circle cx="261.74" cy="308.96" r="2.7" fill="url(#mO)" stroke="#c84428" stroke-width="0.4"/>
<circle cx="268.28" cy="309.44" r="2.7" fill="url(#mO)" stroke="#c84428" stroke-width="0.4"/>
<circle cx="274.82" cy="309.71" r="2.7" fill="url(#mO)" stroke="#c84428" stroke-width="0.4"/>
<circle cx="281.36" cy="310.05" r="2.7" fill="url(#mO)" stroke="#c84428" stroke-width="0.4"/>
<circle cx="287.9" cy="310.66" r="2.7" fill="url(#mO)" stroke="#c84428" stroke-width="0.4"/>
<circle cx="294.44" cy="322.86" r="2.7" fill="url(#mO)" stroke="#c84428" stroke-width="0.4"/>
<circle cx="300.98" cy="322.86" r="2.7" fill="url(#mO)" stroke="#c84428" stroke-width="0.4"/>
<circle cx="307.52" cy="322.79" r="2.7" fill="url(#mO)" stroke="#c84428" stroke-width="0.4"/>
<circle cx="314.06" cy="322.86" r="2.7" fill="url(#mO)" stroke="#c84428" stroke-width="0.4"/>
<circle cx="320.6" cy="322.86" r="2.7" fill="url(#mO)" stroke="#c84428" stroke-width="0.4"/>
<circle cx="327.14" cy="335.06" r="2.7" fill="url(#mO)" stroke="#c84428" stroke-width="0.4"/>
<circle cx="333.68" cy="335.06" r="2.7" fill="url(#mO)" stroke="#c84428" stroke-width="0.4"/>
<circle cx="340.22" cy="335.06" r="2.7" fill="url(#mO)" stroke="#c84428" stroke-width="0.4"/>
<circle cx="346.76" cy="335.06" r="2.7" fill="url(#mO)" stroke="#c84428" stroke-width="0.4"/>
<circle cx="353.3" cy="335.06" r="2.7" fill="url(#mO)" stroke="#c84428" stroke-width="0.4"/>
<circle cx="359.84" cy="335.06" r="2.7" fill="url(#mO)" stroke="#c84428" stroke-width="0.4"/>
<circle cx="366.38" cy="335.06" r="2.7" fill="url(#mO)" stroke="#c84428" stroke-width="0.4"/>
<circle cx="372.92" cy="335.06" r="2.7" fill="url(#mO)" stroke="#c84428" stroke-width="0.4"/>
<circle cx="379.46" cy="335.06" r="2.7" fill="url(#mO)" stroke="#c84428" stroke-width="0.4"/>
<circle cx="386" cy="335.06" r="2.7" fill="url(#mO)" stroke="#c84428" stroke-width="0.4"/>
<circle cx="392.54" cy="335.06" r="2.7" fill="url(#mO)" stroke="#c84428" stroke-width="0.4"/>
<circle cx="399.08" cy="335.06" r="2.7" fill="url(#mO)" stroke="#c84428" stroke-width="0.4"/>
<circle cx="405.62" cy="335.06" r="2.7" fill="url(#mO)" stroke="#c84428" stroke-width="0.4"/>
<circle cx="412.16" cy="335.06" r="2.7" fill="url(#mO)" stroke="#c84428" stroke-width="0.4"/>
<circle cx="418.7" cy="335.06" r="2.7" fill="url(#mO)" stroke="#c84428" stroke-width="0.4"/>
<circle cx="261.74" cy="235.26" r="2.7" fill="url(#mB)" stroke="#244e8c" stroke-width="0.4"/>
<circle cx="268.28" cy="235.26" r="2.7" fill="url(#mB)" stroke="#244e8c" stroke-width="0.4"/>
<circle cx="274.82" cy="235.19" r="2.7" fill="url(#mB)" stroke="#244e8c" stroke-width="0.4"/>
<circle cx="281.36" cy="235.19" r="2.7" fill="url(#mB)" stroke="#244e8c" stroke-width="0.4"/>
<circle cx="287.9" cy="235.19" r="2.7" fill="url(#mB)" stroke="#244e8c" stroke-width="0.4"/>
<circle cx="294.44" cy="256.55" r="2.7" fill="url(#mB)" stroke="#244e8c" stroke-width="0.4"/>
<circle cx="300.98" cy="256.62" r="2.7" fill="url(#mB)" stroke="#244e8c" stroke-width="0.4"/>
<circle cx="307.52" cy="256.62" r="2.7" fill="url(#mB)" stroke="#244e8c" stroke-width="0.4"/>
<circle cx="314.06" cy="256.62" r="2.7" fill="url(#mB)" stroke="#244e8c" stroke-width="0.4"/>
<circle cx="320.6" cy="256.62" r="2.7" fill="url(#mB)" stroke="#244e8c" stroke-width="0.4"/>
<circle cx="327.14" cy="293.3" r="2.7" fill="url(#mB)" stroke="#244e8c" stroke-width="0.4"/>
<circle cx="333.68" cy="293.3" r="2.7" fill="url(#mB)" stroke="#244e8c" stroke-width="0.4"/>
<circle cx="340.22" cy="293.3" r="2.7" fill="url(#mB)" stroke="#244e8c" stroke-width="0.4"/>
<circle cx="346.76" cy="293.3" r="2.7" fill="url(#mB)" stroke="#244e8c" stroke-width="0.4"/>
<circle cx="353.3" cy="293.3" r="2.7" fill="url(#mB)" stroke="#244e8c" stroke-width="0.4"/>
<circle cx="359.84" cy="306.86" r="2.7" fill="url(#mB)" stroke="#244e8c" stroke-width="0.4"/>
<circle cx="366.38" cy="308.35" r="2.7" fill="url(#mB)" stroke="#244e8c" stroke-width="0.4"/>
<circle cx="372.92" cy="307.81" r="2.7" fill="url(#mB)" stroke="#244e8c" stroke-width="0.4"/>
<circle cx="379.46" cy="306.32" r="2.7" fill="url(#mB)" stroke="#244e8c" stroke-width="0.4"/>
<circle cx="386" cy="305.57" r="2.7" fill="url(#mB)" stroke="#244e8c" stroke-width="0.4"/>
<circle cx="392.54" cy="325.23" r="2.7" fill="url(#mB)" stroke="#244e8c" stroke-width="0.4"/>
<circle cx="399.08" cy="325.23" r="2.7" fill="url(#mB)" stroke="#244e8c" stroke-width="0.4"/>
<circle cx="405.62" cy="325.23" r="2.7" fill="url(#mB)" stroke="#244e8c" stroke-width="0.4"/>
<circle cx="412.16" cy="325.23" r="2.7" fill="url(#mB)" stroke="#244e8c" stroke-width="0.4"/>
<circle cx="418.7" cy="325.23" r="2.7" fill="url(#mB)" stroke="#244e8c" stroke-width="0.4"/>
<circle cx="261.74" cy="230.58" r="2.7" fill="url(#mR)" stroke="#9a1434" stroke-width="0.4"/>
<circle cx="268.28" cy="230.11" r="2.7" fill="url(#mR)" stroke="#9a1434" stroke-width="0.4"/>
<circle cx="274.82" cy="229.7" r="2.7" fill="url(#mR)" stroke="#9a1434" stroke-width="0.4"/>
<circle cx="281.36" cy="229.3" r="2.7" fill="url(#mR)" stroke="#9a1434" stroke-width="0.4"/>
<circle cx="287.9" cy="228.75" r="2.7" fill="url(#mR)" stroke="#9a1434" stroke-width="0.4"/>
<circle cx="294.44" cy="250.99" r="2.7" fill="url(#mR)" stroke="#9a1434" stroke-width="0.4"/>
<circle cx="300.98" cy="250.86" r="2.7" fill="url(#mR)" stroke="#9a1434" stroke-width="0.4"/>
<circle cx="307.52" cy="250.79" r="2.7" fill="url(#mR)" stroke="#9a1434" stroke-width="0.4"/>
<circle cx="314.06" cy="250.79" r="2.7" fill="url(#mR)" stroke="#9a1434" stroke-width="0.4"/>
<circle cx="320.6" cy="250.72" r="2.7" fill="url(#mR)" stroke="#9a1434" stroke-width="0.4"/>
<circle cx="327.14" cy="278.93" r="2.7" fill="url(#mR)" stroke="#9a1434" stroke-width="0.4"/>
<circle cx="333.68" cy="279.2" r="2.7" fill="url(#mR)" stroke="#9a1434" stroke-width="0.4"/>
<circle cx="340.22" cy="279.6" r="2.7" fill="url(#mR)" stroke="#9a1434" stroke-width="0.4"/>
<circle cx="346.76" cy="280.28" r="2.7" fill="url(#mR)" stroke="#9a1434" stroke-width="0.4"/>
<circle cx="353.3" cy="280.96" r="2.7" fill="url(#mR)" stroke="#9a1434" stroke-width="0.4"/>
<circle cx="359.84" cy="287.47" r="2.7" fill="url(#mR)" stroke="#9a1434" stroke-width="0.4"/>
<circle cx="366.38" cy="287.54" r="2.7" fill="url(#mR)" stroke="#9a1434" stroke-width="0.4"/>
<circle cx="372.92" cy="287.54" r="2.7" fill="url(#mR)" stroke="#9a1434" stroke-width="0.4"/>
<circle cx="379.46" cy="287.54" r="2.7" fill="url(#mR)" stroke="#9a1434" stroke-width="0.4"/>
<circle cx="386" cy="287.54" r="2.7" fill="url(#mR)" stroke="#9a1434" stroke-width="0.4"/>
<circle cx="392.54" cy="305.16" r="2.7" fill="url(#mR)" stroke="#9a1434" stroke-width="0.4"/>
<circle cx="399.08" cy="305.16" r="2.7" fill="url(#mR)" stroke="#9a1434" stroke-width="0.4"/>
<circle cx="405.62" cy="305.16" r="2.7" fill="url(#mR)" stroke="#9a1434" stroke-width="0.4"/>
<circle cx="412.16" cy="305.16" r="2.7" fill="url(#mR)" stroke="#9a1434" stroke-width="0.4"/>
<circle cx="418.7" cy="305.1" r="2.7" fill="url(#mR)" stroke="#9a1434" stroke-width="0.4"/>
<path d="M255.4,199.5H425.6M255.4,338.5H425.6" fill="none" stroke="#231f20" stroke-width="1.1" stroke-linecap="square"/>
<path d="M255.4,199.5V338.5M425.6,199.5V338.5" fill="none" stroke="#231f20" stroke-width="1.3" stroke-linecap="square"/>
<line x1="253" y1="335.2" x2="255.4" y2="335.2" stroke="#231f20" stroke-width="1.0"/>
<text transform="translate(250.8,337.8) scale(1,1.1)" font-size="8.6" text-anchor="end" fill="#231f20" stroke="#231f20" stroke-width="0.1">0</text>
<line x1="253" y1="301.3" x2="255.4" y2="301.3" stroke="#231f20" stroke-width="1.0"/>
<text transform="translate(250.8,303.9) scale(1,1.1)" font-size="8.6" text-anchor="end" fill="#231f20" stroke="#231f20" stroke-width="0.1">50</text>
<line x1="253" y1="267.4" x2="255.4" y2="267.4" stroke="#231f20" stroke-width="1.0"/>
<text transform="translate(250.8,270) scale(1,1.1)" font-size="8.6" text-anchor="end" fill="#231f20" stroke="#231f20" stroke-width="0.1">100</text>
<line x1="253" y1="233.5" x2="255.4" y2="233.5" stroke="#231f20" stroke-width="1.0"/>
<text transform="translate(250.8,236.1) scale(1,1.1)" font-size="8.6" text-anchor="end" fill="#231f20" stroke="#231f20" stroke-width="0.1">150</text>
<line x1="253" y1="199.6" x2="255.4" y2="199.6" stroke="#231f20" stroke-width="1.0"/>
<text transform="translate(250.8,202.2) scale(1,1.1)" font-size="8.6" text-anchor="end" fill="#231f20" stroke="#231f20" stroke-width="0.1">200</text>
<line x1="254" y1="318.25" x2="255.4" y2="318.25" stroke="#231f20" stroke-width="1.0"/>
<line x1="254" y1="284.35" x2="255.4" y2="284.35" stroke="#231f20" stroke-width="1.0"/>
<line x1="254" y1="250.45" x2="255.4" y2="250.45" stroke="#231f20" stroke-width="1.0"/>
<line x1="254" y1="216.55" x2="255.4" y2="216.55" stroke="#231f20" stroke-width="1.0"/>
<line x1="255.2" y1="338.5" x2="255.2" y2="340.9" stroke="#231f20" stroke-width="1.2"/>
<text transform="translate(255.2,349.9) scale(1,1.1)" font-size="8.3" text-anchor="middle" fill="#231f20" stroke="#231f20" stroke-width="0.1">0</text>
<line x1="287.9" y1="338.5" x2="287.9" y2="340.9" stroke="#231f20" stroke-width="1.2"/>
<text transform="translate(287.9,349.9) scale(1,1.1)" font-size="8.3" text-anchor="middle" fill="#231f20" stroke="#231f20" stroke-width="0.1">5</text>
<line x1="320.6" y1="338.5" x2="320.6" y2="340.9" stroke="#231f20" stroke-width="1.2"/>
<text transform="translate(320.6,349.9) scale(1,1.1)" font-size="8.3" text-anchor="middle" fill="#231f20" stroke="#231f20" stroke-width="0.1">10</text>
<line x1="353.3" y1="338.5" x2="353.3" y2="340.9" stroke="#231f20" stroke-width="1.2"/>
<text transform="translate(353.3,349.9) scale(1,1.1)" font-size="8.3" text-anchor="middle" fill="#231f20" stroke="#231f20" stroke-width="0.1">15</text>
<line x1="386" y1="338.5" x2="386" y2="340.9" stroke="#231f20" stroke-width="1.2"/>
<text transform="translate(386,349.9) scale(1,1.1)" font-size="8.3" text-anchor="middle" fill="#231f20" stroke="#231f20" stroke-width="0.1">20</text>
<line x1="418.7" y1="338.5" x2="418.7" y2="340.9" stroke="#231f20" stroke-width="1.2"/>
<text transform="translate(418.7,349.9) scale(1,1.1)" font-size="8.3" text-anchor="middle" fill="#231f20" stroke="#231f20" stroke-width="0.1">25</text>
<line x1="271.55" y1="338.5" x2="271.55" y2="339.9" stroke="#231f20" stroke-width="1.2"/>
<line x1="304.25" y1="338.5" x2="304.25" y2="339.9" stroke="#231f20" stroke-width="1.2"/>
<line x1="336.95" y1="338.5" x2="336.95" y2="339.9" stroke="#231f20" stroke-width="1.2"/>
<line x1="369.65" y1="338.5" x2="369.65" y2="339.9" stroke="#231f20" stroke-width="1.2"/>
<line x1="402.35" y1="338.5" x2="402.35" y2="339.9" stroke="#231f20" stroke-width="1.2"/>
<text transform="translate(265.8,225.6) scale(1,1.1)" font-size="8.6" text-anchor="start" fill="#86c0e6">0 <tspan font-size="5.16" dy="-3.27" stroke="#86c0e6" stroke-width="0.1">o</tspan><tspan dy="3.27">C</tspan></text>
<text transform="translate(297,242.6) scale(1,1.1)" font-size="8.6" text-anchor="start" fill="#6caadc">-20 <tspan font-size="5.16" dy="-3.27" stroke="#6caadc" stroke-width="0.1">o</tspan><tspan dy="3.27">C</tspan></text>
<text transform="translate(329.7,267.7) scale(1,1.1)" font-size="8.6" text-anchor="start" fill="#4a8acb">-40 <tspan font-size="5.16" dy="-3.27" stroke="#4a8acb" stroke-width="0.1">o</tspan><tspan dy="3.27">C</tspan></text>
<text transform="translate(360.8,278.1) scale(1,1.1)" font-size="8.6" text-anchor="start" fill="#3a72b4">-50 <tspan font-size="5.16" dy="-3.27" stroke="#3a72b4" stroke-width="0.1">o</tspan><tspan dy="3.27">C</tspan></text>
<text transform="translate(394.8,296.4) scale(1,1.1)" font-size="8.6" text-anchor="start" fill="#2b5a9a">-60 <tspan font-size="5.16" dy="-3.27" stroke="#2b5a9a" stroke-width="0.1">o</tspan><tspan dy="3.27">C</tspan></text>
<text transform="translate(379.2,211.1) scale(1,1.1)" font-size="8.8" text-anchor="start" fill="#231f20" stroke="#231f20" stroke-width="0.1">100 mA g<tspan dy="-3.4" font-size="5.8">-1</tspan></text>
<line x1="356.2" y1="219.8" x2="376" y2="219.8" stroke="#cc2445" stroke-width="1.0"/>
<circle cx="365.7" cy="219.8" r="2.55" fill="url(#mR)" stroke="#9a1434" stroke-width="0.4"/>
<text transform="translate(378.9,222.8) scale(1,1.1)" font-size="8.7" text-anchor="start" fill="#231f20" stroke="#231f20" stroke-width="0.1">CZHE</text>
<line x1="356.2" y1="230.4" x2="376" y2="230.4" stroke="#f4bba2" stroke-width="1.0"/>
<circle cx="365.7" cy="230.4" r="2.55" fill="url(#mP)" stroke="#e8a488" stroke-width="0.4"/>
<text transform="translate(378.9,233.4) scale(1,1.1)" font-size="8.7" text-anchor="start" fill="#231f20" stroke="#231f20" stroke-width="0.1">PAMPSHE</text>
<line x1="356.2" y1="241.1" x2="376" y2="241.1" stroke="#ec5e40" stroke-width="1.0"/>
<circle cx="365.7" cy="241.1" r="2.55" fill="url(#mO)" stroke="#c84428" stroke-width="0.4"/>
<text transform="translate(378.9,244.1) scale(1,1.1)" font-size="8.7" text-anchor="start" fill="#231f20" stroke="#231f20" stroke-width="0.1">PAMHE</text>
<line x1="356.2" y1="252" x2="376" y2="252" stroke="#3a6db0" stroke-width="1.0"/>
<circle cx="365.7" cy="252.0" r="2.55" fill="url(#mB)" stroke="#244e8c" stroke-width="0.4"/>
<text transform="translate(378.9,255) scale(1,1.1)" font-size="8.7" text-anchor="start" fill="#231f20" stroke="#231f20" stroke-width="0.1">LE</text>
<text transform="translate(340.5,365.8) scale(1,1.1)" font-size="11.5" text-anchor="middle" fill="#231f20" stroke="#231f20" stroke-width="0.1">Cycle number</text>
<text transform="translate(233.6,268.4) rotate(-90) scale(1,1.06)" font-size="11.1" text-anchor="middle" fill="#231f20" stroke="#231f20" stroke-width="0.1">Capacity (mAh g<tspan dy="-4.2" font-size="7.2">-1</tspan><tspan dy="4.2">)</tspan></text>
<polyline points="481.27,276.79 481.83,276.47 482.4,276.85 482.97,276.13 483.53,276.75 484.1,276.87 484.67,276.94 485.24,277.8 485.8,277.48 486.37,277.94 486.94,277.63 487.5,277.8 488.07,278.34 488.64,278.95 489.2,278.31 489.77,278.49 490.34,278.91 490.91,279.11 491.47,278.43 492.04,277.86 492.61,278.1 493.17,276.68 493.74,277.24 494.31,276.38 494.88,276.11 495.44,276.09 496.01,276.36 496.58,277.01 497.14,276.42 497.71,276.99 498.28,277.17 498.84,276.97 499.41,277.23 499.98,276.72 500.54,276.71 501.11,276.85 501.68,277.35 502.25,277.04 502.81,276.88 503.38,277.14 503.95,276.97 504.51,276.78 505.08,277.32 505.65,277.23 506.21,276.76 506.78,277.17 507.35,277.16 507.92,277.6 508.48,277.49 509.05,277.04 509.62,277.82 510.18,276.88 510.75,277.23 511.32,277.63 511.88,277.01 512.45,277.43 513.02,276.99 513.59,277.73 514.15,277.87 514.72,277.68 515.29,278.01 515.85,277.4 516.42,277.81 516.99,277.7 517.55,277.69 518.12,277.55 518.69,277.97 519.26,278.09 519.82,277.57 520.39,277.79 520.96,277.15 521.52,277.91 522.09,277.93 522.66,278.39 523.23,278.3 523.79,277.82 524.36,278.02 524.93,278.42 525.49,277.79 526.06,278.32 526.63,278.03 527.19,277.98 527.76,277.96 528.33,278.83 528.89,278.26 529.46,278.56 530.03,278.89 530.6,279.59 531.16,278.88 531.73,279.42 532.3,279.61 532.86,280.02 533.43,279.92 534,279.83 534.56,278.96 535.13,278.81 535.7,278.43 536.27,278.71 536.83,278.53 537.4,277.48 537.97,277.44 538.53,277.54 539.1,277.64 539.67,278.08 540.24,278.4 540.8,278.25 541.37,278.17 541.94,278.78 542.5,278.83 543.07,279.07 543.64,279.49 544.2,279.17 544.77,278.94 545.34,279 545.9,279.01 546.47,278.26 547.04,279.13 547.61,278.94 548.17,278.99 548.74,278.87 549.31,278.39 549.87,278.39 550.44,278.07 551.01,278.7 551.58,278.13 552.14,278.22 552.71,278.46 553.28,278.5 553.84,278.76 554.41,278.49 554.98,278.45 555.54,279.13 556.11,280.32 556.68,281.66 557.25,281.46 557.81,282.19 558.38,281.51 558.95,280.46 559.51,279.96 560.08,279.46 560.65,278.95 561.21,278.29 561.78,278.9 562.35,279.13 562.91,279.04 563.48,279.81 564.05,280.13 564.62,280.65 565.18,281.02 565.75,280.76 566.32,281.02 566.88,279.83 567.45,279.19 568.02,279.81 568.59,279.09 569.15,278.61 569.72,279.12 570.29,278.72 570.85,279.51 571.42,280.3 571.99,280.49 572.55,280.63 573.12,280.45 573.69,280.8 574.25,280.75 574.82,281.49 575.39,281.33 575.96,282.01 576.52,282.14 577.09,282.63 577.66,283.67 578.22,283.91 578.79,283.54 579.36,283.04 579.92,282.48 580.49,281.81 581.06,280.75 581.63,280.78 582.19,280.54 582.76,280.16 583.33,280.12 583.89,280.33 584.46,280.24 585.03,280.65 585.6,280.88 586.16,280.27 586.73,280.78 587.3,280.88 587.86,281.19 588.43,281.14 589,281.74 589.56,282.5 590.13,283.07 590.7,283.43 591.26,283.92 591.83,284.07 592.4,283.71 592.97,282.95 593.53,282.77 594.1,282.63 594.67,281.67 595.23,282.28 595.8,282.56 596.37,282.44 596.93,282.43 597.5,282.16 598.07,281.87 598.64,282.59 599.2,282.13 599.77,282.69 600.34,282.92 600.9,282.32 601.47,282.36 602.04,282.98 602.61,282.74 603.17,282.17 603.74,282.63 604.31,283.43 604.87,284.73 605.44,284.62 606.01,283.8 606.57,284.4 607.14,284.36 607.71,283.76 608.27,283.15 608.84,283.09 609.41,282.36 609.98,281.99 610.54,282.84 611.11,282.35 611.68,282.14 612.24,282.58 612.81,282.07 613.38,282.63 613.94,282.69 614.51,282.16 615.08,282.38 615.65,282.6 616.21,282.74 616.78,283.3 617.35,283.11 617.91,283.44 618.48,283.25 619.05,284.19 619.62,283.63 620.18,283.76 620.75,283.94 621.32,284.39 621.88,283.99 622.45,284.7 623.02,284.4 623.58,284.57 624.15,284.66 624.72,284.16 625.28,284.64 625.85,284.42 626.42,284.33 626.99,285.35 627.55,284.84 628.12,285.36 628.69,285.83 629.25,285.81 629.82,285.69 630.39,285.99 630.95,286.06 631.52,286.27 632.09,285.38 632.66,285.65 633.22,285.02 633.79,284.75 634.36,285.01 634.92,284.5 635.49,284.41 636.06,284.59 636.62,284.88 637.19,284.69 637.76,285.32 638.33,285.68 638.89,286.12 639.46,286.61 640.03,286.45 640.59,286.37 641.16,285.87 641.73,285.76 642.29,284.81 642.86,284.39 643.43,284.04 644,283.14 644.56,283.57 645.13,284.31 645.7,284.68 646.26,284.49 646.83,285.1 647.4,286.02 647.96,286.07 648.53,286.54 649.1,286.41 649.67,286.36 650.23,285.24 650.8,284.51" fill="none" stroke="#cc2a4c" stroke-width="3.5" stroke-linejoin="round"/>
<polyline points="481.27,225.19 482.4,225.02 483.53,224.67 484.67,224.26 485.8,223.93 486.94,223.8 488.07,223.71 489.2,223.44 490.34,223.09 491.47,222.78 492.61,222.61 493.74,222.66 494.88,222.96 496.01,223.4 497.14,223.85 498.28,224.14 499.41,224.21 500.54,224.35 501.68,224.59 502.81,224.81 503.95,224.9 505.08,224.84 506.21,224.65 507.35,224.39 508.48,224.12 509.62,223.9 510.75,223.8 511.88,223.83 513.02,223.93 514.15,224.1 515.29,224.27 516.42,224.42 517.55,224.49 518.69,224.47 519.82,224.33 520.96,224.08 522.09,223.77 523.23,223.48 524.36,223.24 525.49,223.11 526.63,223.11 527.76,223.17 528.89,223.28 530.03,223.43 531.16,223.6 532.3,223.77 533.43,223.94 534.56,224.07 535.7,224.16 536.83,224.2 537.97,224.21 539.1,224.25 540.24,224.31 541.37,224.37 542.5,224.43 543.64,224.48 544.77,224.5 545.9,224.55 547.04,224.76 548.17,225.08 549.31,225.45 550.44,225.81 551.58,226.07 552.71,226.19 553.84,226.15 554.98,225.96 556.11,225.66 557.25,225.34 558.38,225.06 559.51,224.92 560.65,224.89 561.78,224.82 562.91,224.7 564.05,224.55 565.18,224.37 566.32,224.2 567.45,224.05 568.59,223.95 569.72,223.9 570.85,223.89 571.99,223.85 573.12,223.77 574.25,223.68 575.39,223.56 576.52,223.45 577.66,223.33 578.79,223.23 579.92,223.16 581.06,223.11 582.19,223.1 583.33,223.19 584.46,223.4 585.6,223.7 586.73,224.06 587.86,224.43 589,224.77 590.13,225.02 591.26,225.17 592.4,225.2 593.53,225.13 594.67,225 595.8,224.81 596.93,224.58 598.07,224.33 599.2,224.09 600.34,223.86 601.47,223.68 602.61,223.56 603.74,223.5 604.87,223.5 606.01,223.52 607.14,223.55 608.27,223.59 609.41,223.63 610.54,223.68 611.68,223.73 612.81,223.78 613.94,223.82 615.08,223.86 616.21,223.88 617.35,223.9 618.48,223.91 619.62,224.05 620.75,224.29 621.88,224.55 623.02,224.74 624.15,224.8 625.28,225.05 626.42,225.61 627.55,226.28 628.69,226.84 629.82,227.09 630.95,227.05 632.09,226.87 633.22,226.58 634.36,226.22 635.49,225.83 636.62,225.46 637.76,225.16 638.89,224.97 640.03,224.9 641.16,224.84 642.29,224.68 643.43,224.47 644.56,224.29 645.7,224.2 646.83,224.52 647.96,225.52 649.1,226 650.23,226" fill="none" stroke="#f0525e" stroke-width="3.6" stroke-linejoin="round"/>
<polyline points="481.27,225.19 482.4,225.02 483.53,224.67 484.67,224.26 485.8,223.93 486.94,223.8 488.07,223.71 489.2,223.44 490.34,223.09 491.47,222.78 492.61,222.61 493.74,222.66 494.88,222.96 496.01,223.4 497.14,223.85 498.28,224.14 499.41,224.21 500.54,224.35 501.68,224.59 502.81,224.81 503.95,224.9 505.08,224.84 506.21,224.65 507.35,224.39 508.48,224.12 509.62,223.9 510.75,223.8 511.88,223.83 513.02,223.93 514.15,224.1 515.29,224.27 516.42,224.42 517.55,224.49 518.69,224.47 519.82,224.33 520.96,224.08 522.09,223.77 523.23,223.48 524.36,223.24 525.49,223.11 526.63,223.11 527.76,223.17 528.89,223.28 530.03,223.43 531.16,223.6 532.3,223.77 533.43,223.94 534.56,224.07 535.7,224.16 536.83,224.2 537.97,224.21 539.1,224.25 540.24,224.31 541.37,224.37 542.5,224.43 543.64,224.48 544.77,224.5 545.9,224.55 547.04,224.76 548.17,225.08 549.31,225.45 550.44,225.81 551.58,226.07 552.71,226.19 553.84,226.15 554.98,225.96 556.11,225.66 557.25,225.34 558.38,225.06 559.51,224.92 560.65,224.89 561.78,224.82 562.91,224.7 564.05,224.55 565.18,224.37 566.32,224.2 567.45,224.05 568.59,223.95 569.72,223.9 570.85,223.89 571.99,223.85 573.12,223.77 574.25,223.68 575.39,223.56 576.52,223.45 577.66,223.33 578.79,223.23 579.92,223.16 581.06,223.11 582.19,223.1 583.33,223.19 584.46,223.4 585.6,223.7 586.73,224.06 587.86,224.43 589,224.77 590.13,225.02 591.26,225.17 592.4,225.2 593.53,225.13 594.67,225 595.8,224.81 596.93,224.58 598.07,224.33 599.2,224.09 600.34,223.86 601.47,223.68 602.61,223.56 603.74,223.5 604.87,223.5 606.01,223.52 607.14,223.55 608.27,223.59 609.41,223.63 610.54,223.68 611.68,223.73 612.81,223.78 613.94,223.82 615.08,223.86 616.21,223.88 617.35,223.9 618.48,223.91 619.62,224.05 620.75,224.29 621.88,224.55 623.02,224.74 624.15,224.8 625.28,225.05 626.42,225.61 627.55,226.28 628.69,226.84 629.82,227.09 630.95,227.05 632.09,226.87 633.22,226.58 634.36,226.22 635.49,225.83 636.62,225.46 637.76,225.16 638.89,224.97 640.03,224.9 641.16,224.84 642.29,224.68 643.43,224.47 644.56,224.29 645.7,224.2 646.83,224.52 647.96,225.52 649.1,226 650.23,226" fill="none" stroke="#fbc4ca" stroke-width="0.9" stroke-linejoin="round" stroke-dasharray="2.2 1"/>
<path d="M480.6,199.2H650.8M480.6,338.3H650.8" fill="none" stroke="#231f20" stroke-width="1.1" stroke-linecap="square"/>
<path d="M480.6,199.2V338.3M650.8,199.2V338.3" fill="none" stroke="#231f20" stroke-width="1.3" stroke-linecap="square"/>
<line x1="478.2" y1="338.3" x2="480.6" y2="338.3" stroke="#231f20" stroke-width="1.0"/>
<text transform="translate(475.8,341.2) scale(1,1.1)" font-size="8.3" text-anchor="end" fill="#231f20" stroke="#231f20" stroke-width="0.1">0</text>
<line x1="478.2" y1="310.46" x2="480.6" y2="310.46" stroke="#231f20" stroke-width="1.0"/>
<text transform="translate(475.8,313.36) scale(1,1.1)" font-size="8.3" text-anchor="end" fill="#231f20" stroke="#231f20" stroke-width="0.1">20</text>
<line x1="478.2" y1="282.62" x2="480.6" y2="282.62" stroke="#231f20" stroke-width="1.0"/>
<text transform="translate(475.8,285.52) scale(1,1.1)" font-size="8.3" text-anchor="end" fill="#231f20" stroke="#231f20" stroke-width="0.1">40</text>
<line x1="478.2" y1="254.78" x2="480.6" y2="254.78" stroke="#231f20" stroke-width="1.0"/>
<text transform="translate(475.8,257.68) scale(1,1.1)" font-size="8.3" text-anchor="end" fill="#231f20" stroke="#231f20" stroke-width="0.1">60</text>
<line x1="478.2" y1="226.94" x2="480.6" y2="226.94" stroke="#231f20" stroke-width="1.0"/>
<text transform="translate(475.8,229.84) scale(1,1.1)" font-size="8.3" text-anchor="end" fill="#231f20" stroke="#231f20" stroke-width="0.1">80</text>
<line x1="478.2" y1="199.1" x2="480.6" y2="199.1" stroke="#231f20" stroke-width="1.0"/>
<text transform="translate(475.8,202) scale(1,1.1)" font-size="8.3" text-anchor="end" fill="#231f20" stroke="#231f20" stroke-width="0.1">100</text>
<line x1="479.2" y1="324.38" x2="480.6" y2="324.38" stroke="#231f20" stroke-width="1.0"/>
<line x1="479.2" y1="296.54" x2="480.6" y2="296.54" stroke="#231f20" stroke-width="1.0"/>
<line x1="479.2" y1="268.7" x2="480.6" y2="268.7" stroke="#231f20" stroke-width="1.0"/>
<line x1="479.2" y1="240.86" x2="480.6" y2="240.86" stroke="#231f20" stroke-width="1.0"/>
<line x1="479.2" y1="213.02" x2="480.6" y2="213.02" stroke="#231f20" stroke-width="1.0"/>
<line x1="650.8" y1="338.6" x2="653.2" y2="338.6" stroke="#231f20" stroke-width="1.0"/>
<text transform="translate(654.9,341.5) scale(1,1.1)" font-size="8.3" text-anchor="start" fill="#231f20" stroke="#231f20" stroke-width="0.1">80</text>
<line x1="650.8" y1="310.55" x2="653.2" y2="310.55" stroke="#231f20" stroke-width="1.0"/>
<text transform="translate(654.9,313.45) scale(1,1.1)" font-size="8.3" text-anchor="start" fill="#231f20" stroke="#231f20" stroke-width="0.1">85</text>
<line x1="650.8" y1="282.5" x2="653.2" y2="282.5" stroke="#231f20" stroke-width="1.0"/>
<text transform="translate(654.9,285.4) scale(1,1.1)" font-size="8.3" text-anchor="start" fill="#231f20" stroke="#231f20" stroke-width="0.1">90</text>
<line x1="650.8" y1="254.45" x2="653.2" y2="254.45" stroke="#231f20" stroke-width="1.0"/>
<text transform="translate(654.9,257.35) scale(1,1.1)" font-size="8.3" text-anchor="start" fill="#231f20" stroke="#231f20" stroke-width="0.1">95</text>
<line x1="650.8" y1="226.4" x2="653.2" y2="226.4" stroke="#231f20" stroke-width="1.0"/>
<text transform="translate(654.9,229.3) scale(1,1.1)" font-size="8.3" text-anchor="start" fill="#231f20" stroke="#231f20" stroke-width="0.1">100</text>
<line x1="650.8" y1="198.35" x2="653.2" y2="198.35" stroke="#231f20" stroke-width="1.0"/>
<text transform="translate(654.9,201.25) scale(1,1.1)" font-size="8.3" text-anchor="start" fill="#231f20" stroke="#231f20" stroke-width="0.1">105</text>
<line x1="650.8" y1="324.58" x2="652.2" y2="324.58" stroke="#231f20" stroke-width="1.0"/>
<line x1="650.8" y1="296.53" x2="652.2" y2="296.53" stroke="#231f20" stroke-width="1.0"/>
<line x1="650.8" y1="268.48" x2="652.2" y2="268.48" stroke="#231f20" stroke-width="1.0"/>
<line x1="650.8" y1="240.43" x2="652.2" y2="240.43" stroke="#231f20" stroke-width="1.0"/>
<line x1="650.8" y1="212.38" x2="652.2" y2="212.38" stroke="#231f20" stroke-width="1.0"/>
<line x1="480.7" y1="338.3" x2="480.7" y2="340.7" stroke="#231f20" stroke-width="1.2"/>
<text transform="translate(480.7,349.9) scale(1,1.1)" font-size="8.3" text-anchor="middle" fill="#231f20" stroke="#231f20" stroke-width="0.1">0</text>
<line x1="509.05" y1="338.3" x2="509.05" y2="340.7" stroke="#231f20" stroke-width="1.2"/>
<text transform="translate(509.05,349.9) scale(1,1.1)" font-size="8.3" text-anchor="middle" fill="#231f20" stroke="#231f20" stroke-width="0.1">50</text>
<line x1="537.4" y1="338.3" x2="537.4" y2="340.7" stroke="#231f20" stroke-width="1.2"/>
<text transform="translate(537.4,349.9) scale(1,1.1)" font-size="8.3" text-anchor="middle" fill="#231f20" stroke="#231f20" stroke-width="0.1">100</text>
<line x1="565.75" y1="338.3" x2="565.75" y2="340.7" stroke="#231f20" stroke-width="1.2"/>
<text transform="translate(565.75,349.9) scale(1,1.1)" font-size="8.3" text-anchor="middle" fill="#231f20" stroke="#231f20" stroke-width="0.1">150</text>
<line x1="594.1" y1="338.3" x2="594.1" y2="340.7" stroke="#231f20" stroke-width="1.2"/>
<text transform="translate(594.1,349.9) scale(1,1.1)" font-size="8.3" text-anchor="middle" fill="#231f20" stroke="#231f20" stroke-width="0.1">200</text>
<line x1="622.45" y1="338.3" x2="622.45" y2="340.7" stroke="#231f20" stroke-width="1.2"/>
<text transform="translate(622.45,349.9) scale(1,1.1)" font-size="8.3" text-anchor="middle" fill="#231f20" stroke="#231f20" stroke-width="0.1">250</text>
<line x1="650.8" y1="338.3" x2="650.8" y2="340.7" stroke="#231f20" stroke-width="1.2"/>
<text transform="translate(650.8,349.9) scale(1,1.1)" font-size="8.3" text-anchor="middle" fill="#231f20" stroke="#231f20" stroke-width="0.1">300</text>
<line x1="494.88" y1="338.3" x2="494.88" y2="339.7" stroke="#231f20" stroke-width="1.2"/>
<line x1="523.23" y1="338.3" x2="523.23" y2="339.7" stroke="#231f20" stroke-width="1.2"/>
<line x1="551.58" y1="338.3" x2="551.58" y2="339.7" stroke="#231f20" stroke-width="1.2"/>
<line x1="579.92" y1="338.3" x2="579.92" y2="339.7" stroke="#231f20" stroke-width="1.2"/>
<line x1="608.27" y1="338.3" x2="608.27" y2="339.7" stroke="#231f20" stroke-width="1.2"/>
<line x1="636.62" y1="338.3" x2="636.62" y2="339.7" stroke="#231f20" stroke-width="1.2"/>
<line x1="489.5" y1="292.3" x2="514.8" y2="292.3" stroke="#231f20" stroke-width="0.9"/>
<path d="M485.8,292.3 L490.6,290.5 L490.6,294.1 Z" fill="#231f20"/>
<line x1="614.9" y1="235.4" x2="641.5" y2="235.4" stroke="#231f20" stroke-width="0.9"/>
<path d="M645.4,235.4 L640.6,233.6 L640.6,237.2 Z" fill="#231f20"/>
<text transform="translate(578.1,334.3) scale(1,1.1)" font-size="8.1" text-anchor="start" fill="#231f20" stroke="#231f20" stroke-width="0.1">-60 <tspan font-size="4.86" dy="-3.08" stroke="#231f20" stroke-width="0.1">o</tspan><tspan dy="3.08">C</tspan></text>
<text transform="translate(607.6,334.3) scale(1,1.1)" font-size="8.1" text-anchor="start" fill="#231f20" stroke="#231f20" stroke-width="0.1">100 mA g<tspan dy="-3.2" font-size="5.4">-1</tspan></text>
<text transform="translate(565.7,365.8) scale(1,1.1)" font-size="11.5" text-anchor="middle" fill="#231f20" stroke="#231f20" stroke-width="0.1">Cycle number</text>
<text transform="translate(458.7,268) rotate(-90) scale(1,1.06)" font-size="11.1" text-anchor="middle" fill="#231f20" stroke="#231f20" stroke-width="0.1">Capacity (mAh g<tspan dy="-4.2" font-size="7.2">-1</tspan><tspan dy="4.2">)</tspan></text>
<text transform="translate(681.3,268) rotate(-90) scale(1,1.06)" font-size="11.2" text-anchor="middle" fill="#231f20" stroke="#231f20" stroke-width="0.1">Coulombic efficiency (%)</text>
</g>
</svg></body></html>
